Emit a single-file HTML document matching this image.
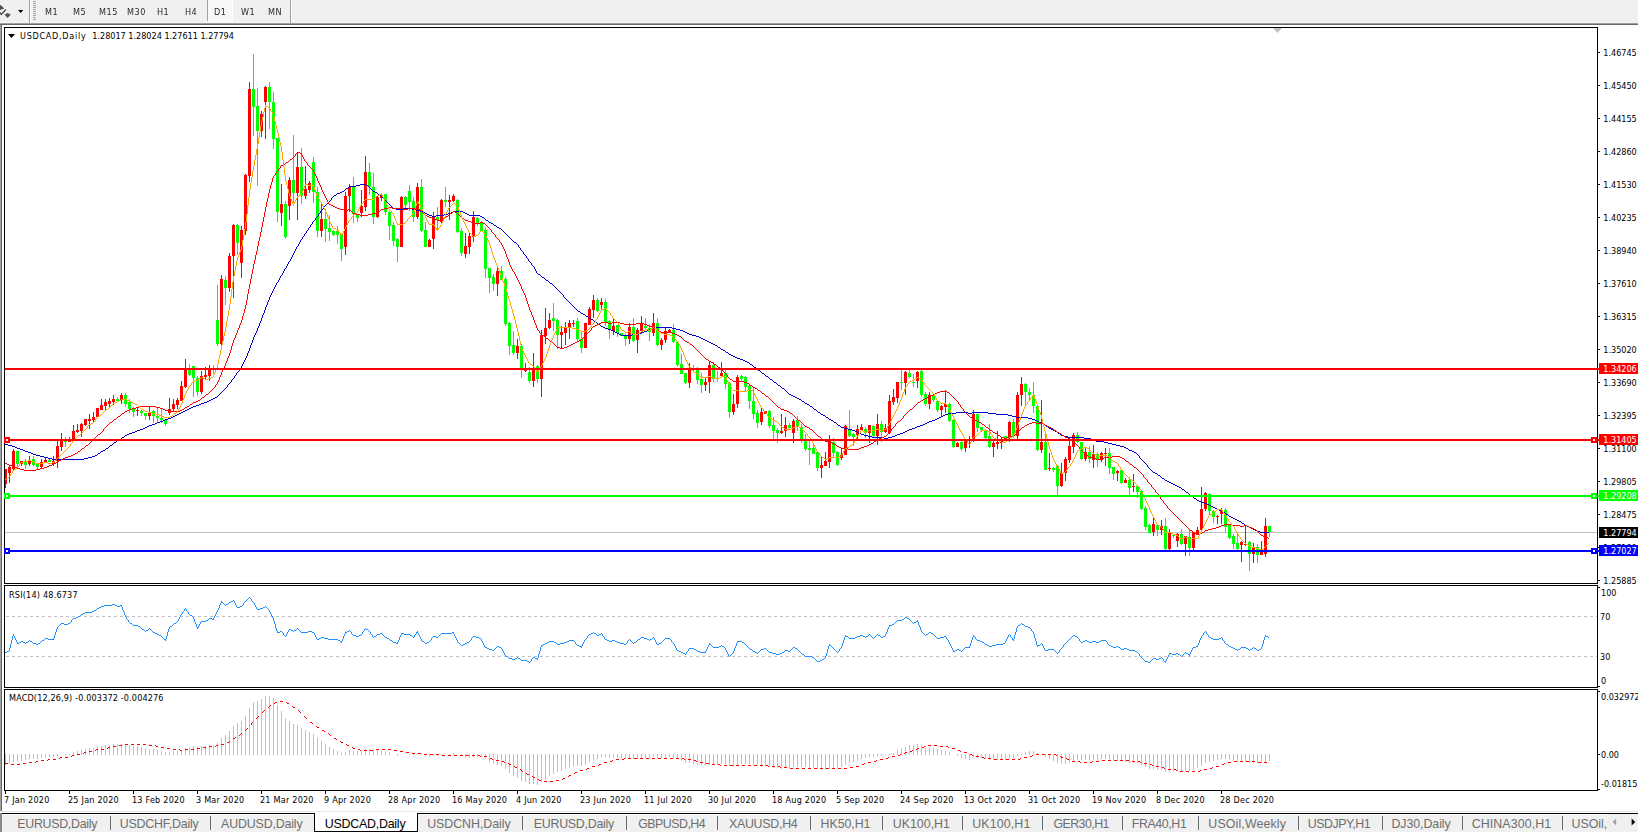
<!DOCTYPE html>
<html><head><meta charset="utf-8"><title>USDCAD,Daily</title>
<style>
html,body{margin:0;padding:0;background:#fff;}
body{width:1638px;height:832px;overflow:hidden;position:relative;font-family:"Liberation Sans",sans-serif;}
.t{position:absolute;white-space:pre;line-height:1;}
.s{font-family:"DejaVu Sans Condensed","Liberation Sans",sans-serif;font-size:9px;}
.tb{color:#2a2a2a;top:7.5px;letter-spacing:0.5px;will-change:transform;}
.ax{color:#000;}
.dt{color:#000;top:796px;letter-spacing:0.22px;}
.lab{color:#fff;}
.tab{font-size:12.4px;color:#6e6e6e;top:817.5px;}
svg{position:absolute;left:0;top:0;}
</style></head><body>
<svg width="1638" height="832" viewBox="0 0 1638 832" shape-rendering="crispEdges">
<rect x="0" y="0" width="1638" height="22" fill="#f0f0f0"/>
<rect x="0" y="22" width="1638" height="1" fill="#f3f3f3"/>
<rect x="0" y="23" width="1638" height="1" fill="#a0a0a0"/>
<rect x="0" y="24" width="1638" height="1" fill="#696969"/>
<rect x="29" y="0" width="1" height="23" fill="#a0a0a0"/>
<rect x="30" y="0" width="1" height="23" fill="#ffffff"/>
<rect x="33" y="1" width="3" height="1" fill="#a8a8a8"/>
<rect x="33" y="3" width="3" height="1" fill="#a8a8a8"/>
<rect x="33" y="5" width="3" height="1" fill="#a8a8a8"/>
<rect x="33" y="7" width="3" height="1" fill="#a8a8a8"/>
<rect x="33" y="9" width="3" height="1" fill="#a8a8a8"/>
<rect x="33" y="11" width="3" height="1" fill="#a8a8a8"/>
<rect x="33" y="13" width="3" height="1" fill="#a8a8a8"/>
<rect x="33" y="15" width="3" height="1" fill="#a8a8a8"/>
<rect x="33" y="17" width="3" height="1" fill="#a8a8a8"/>
<rect x="33" y="19" width="3" height="1" fill="#a8a8a8"/>
<rect x="207" y="0" width="1" height="21" fill="#a0a0a0"/>
<defs><pattern id="dz" width="2" height="2" patternUnits="userSpaceOnUse"><rect width="2" height="2" fill="#f0f0f0"/><rect width="1" height="1" fill="#fff"/><rect x="1" y="1" width="1" height="1" fill="#fff"/></pattern></defs><rect x="208" y="0" width="24" height="21" fill="url(#dz)"/>
<rect x="232" y="0" width="1" height="22" fill="#ffffff"/>
<rect x="207" y="21" width="26" height="1" fill="#ffffff"/>
<rect x="290" y="0" width="1" height="23" fill="#a0a0a0"/>
<rect x="291" y="0" width="1" height="23" fill="#fafafa"/>
<path d="M0 5.2 L1 5.2 L4.2 8.4 L0 10 Z" fill="#505050" shape-rendering="auto"/>
<path d="M-0.5 12.3 L1.3 14.4 L5.9 9.5" stroke="#505050" stroke-width="1.5" fill="none" shape-rendering="auto"/>
<path d="M4.2 14.2 L6 14.2 L6.5 13.2 L8.6 13.2 L9.1 14.2 L11 14.2 L7.6 18 Z" fill="#505050" shape-rendering="auto"/>
<path d="M18 10 L23.3 10 L20.65 13.1 Z" fill="#000" shape-rendering="auto"/>
<rect x="0" y="25" width="1" height="786" fill="#a0a0a0"/>
<rect x="1" y="25" width="1" height="786" fill="#696969"/>
<path d="M1273 28 L1282 28 L1277.5 33 Z" fill="#c0c0c0" shape-rendering="auto"/>
<rect x="1598" y="52" width="2" height="1" fill="#000"/>
<rect x="1598" y="85" width="2" height="1" fill="#000"/>
<rect x="1598" y="118" width="2" height="1" fill="#000"/>
<rect x="1598" y="151" width="2" height="1" fill="#000"/>
<rect x="1598" y="184" width="2" height="1" fill="#000"/>
<rect x="1598" y="217" width="2" height="1" fill="#000"/>
<rect x="1598" y="250" width="2" height="1" fill="#000"/>
<rect x="1598" y="283" width="2" height="1" fill="#000"/>
<rect x="1598" y="316" width="2" height="1" fill="#000"/>
<rect x="1598" y="349" width="2" height="1" fill="#000"/>
<rect x="1598" y="382" width="2" height="1" fill="#000"/>
<rect x="1598" y="415" width="2" height="1" fill="#000"/>
<rect x="1598" y="448" width="2" height="1" fill="#000"/>
<rect x="1598" y="481" width="2" height="1" fill="#000"/>
<rect x="1598" y="514" width="2" height="1" fill="#000"/>
<rect x="1598" y="547" width="2" height="1" fill="#000"/>
<rect x="1598" y="580" width="2" height="1" fill="#000"/>
<rect x="1598" y="587" width="2" height="1" fill="#000"/>
<rect x="1598" y="686" width="2" height="1" fill="#000"/>
<rect x="1598" y="691" width="2" height="1" fill="#000"/>
<rect x="1598" y="754" width="2" height="1" fill="#000"/>
<rect x="1598" y="789" width="2" height="1" fill="#000"/>
<path d="M6 616.5H1597M6 656.5H1597" stroke="#c0c0c0" stroke-width="1" stroke-dasharray="3 3" fill="none"/>
<path d="M8 34 L15 34 L11.5 38 Z" fill="#000" shape-rendering="auto"/>
<rect x="5" y="791" width="1" height="3" fill="#000"/>
<rect x="69" y="791" width="1" height="3" fill="#000"/>
<rect x="133" y="791" width="1" height="3" fill="#000"/>
<rect x="197" y="791" width="1" height="3" fill="#000"/>
<rect x="261" y="791" width="1" height="3" fill="#000"/>
<rect x="325" y="791" width="1" height="3" fill="#000"/>
<rect x="389" y="791" width="1" height="3" fill="#000"/>
<rect x="453" y="791" width="1" height="3" fill="#000"/>
<rect x="517" y="791" width="1" height="3" fill="#000"/>
<rect x="581" y="791" width="1" height="3" fill="#000"/>
<rect x="645" y="791" width="1" height="3" fill="#000"/>
<rect x="709" y="791" width="1" height="3" fill="#000"/>
<rect x="773" y="791" width="1" height="3" fill="#000"/>
<rect x="837" y="791" width="1" height="3" fill="#000"/>
<rect x="901" y="791" width="1" height="3" fill="#000"/>
<rect x="965" y="791" width="1" height="3" fill="#000"/>
<rect x="1029" y="791" width="1" height="3" fill="#000"/>
<rect x="1093" y="791" width="1" height="3" fill="#000"/>
<rect x="1157" y="791" width="1" height="3" fill="#000"/>
<rect x="1221" y="791" width="1" height="3" fill="#000"/>
<rect x="0" y="811" width="1638" height="1" fill="#e6e6e6"/>
<rect x="0" y="813" width="1638" height="1" fill="#000"/>
<rect x="0" y="815" width="1638" height="17" fill="#f0f0f0"/>
<rect x="0" y="813" width="2" height="19" fill="#8a8a8a"/>
<rect x="315" y="813" width="102" height="18" fill="#fff"/>
<rect x="314" y="813" width="1" height="19" fill="#000"/>
<rect x="417" y="813" width="1" height="19" fill="#000"/>
<rect x="314" y="831" width="104" height="1" fill="#000"/>
<rect x="110" y="816" width="1" height="14" fill="#6a6a6a"/>
<rect x="210" y="816" width="1" height="14" fill="#6a6a6a"/>
<rect x="522" y="816" width="1" height="14" fill="#6a6a6a"/>
<rect x="626" y="816" width="1" height="14" fill="#6a6a6a"/>
<rect x="717" y="816" width="1" height="14" fill="#6a6a6a"/>
<rect x="810" y="816" width="1" height="14" fill="#6a6a6a"/>
<rect x="882" y="816" width="1" height="14" fill="#6a6a6a"/>
<rect x="962" y="816" width="1" height="14" fill="#6a6a6a"/>
<rect x="1042" y="816" width="1" height="14" fill="#6a6a6a"/>
<rect x="1122" y="816" width="1" height="14" fill="#6a6a6a"/>
<rect x="1198" y="816" width="1" height="14" fill="#6a6a6a"/>
<rect x="1298" y="816" width="1" height="14" fill="#6a6a6a"/>
<rect x="1382" y="816" width="1" height="14" fill="#6a6a6a"/>
<rect x="1462" y="816" width="1" height="14" fill="#6a6a6a"/>
<rect x="1562" y="816" width="1" height="14" fill="#6a6a6a"/>
<rect x="1606" y="814" width="32" height="18" fill="#f0f0f0"/>
<path d="M1616.2 818.5 L1616.2 825.5 L1612.6 822 Z" fill="#a0a0a0" shape-rendering="auto"/>
<path d="M1631.6 818.5 L1631.6 825.5 L1635.3 822 Z" fill="#000" shape-rendering="auto"/>
<rect x="5" y="532" width="1592" height="1" fill="#c0c0c0"/>
<path d="M5 469h1v19h-1zM9 466h1v17h-1zM13 449h1v22h-1zM21 461h1v5h-1zM29 456h1v10h-1zM41 459h1v10h-1zM45 457h1v6h-1zM53 456h1v10h-1zM57 440h1v28h-1zM61 433h1v18h-1zM69 437h1v5h-1zM73 425h1v15h-1zM77 424h1v9h-1zM81 423h1v14h-1zM85 419h1v7h-1zM89 414h1v15h-1zM93 412h1v11h-1zM97 408h1v10h-1zM101 399h1v11h-1zM105 399h1v11h-1zM109 398h1v9h-1zM113 395h1v10h-1zM121 393h1v11h-1zM137 407h1v9h-1zM149 406h1v14h-1zM169 398h1v17h-1zM173 399h1v12h-1zM177 398h1v11h-1zM181 381h1v20h-1zM185 359h1v29h-1zM201 371h1v23h-1zM205 367h1v12h-1zM209 365h1v16h-1zM221 275h1v70h-1zM229 253h1v39h-1zM233 224h1v74h-1zM241 226h1v52h-1zM245 174h1v61h-1zM249 82h1v100h-1zM261 111h1v26h-1zM265 86h1v53h-1zM281 184h1v42h-1zM289 177h1v43h-1zM297 152h1v68h-1zM305 166h1v33h-1zM309 181h1v12h-1zM321 204h1v33h-1zM345 192h1v63h-1zM349 184h1v28h-1zM361 190h1v27h-1zM365 156h1v55h-1zM377 195h1v23h-1zM381 193h1v8h-1zM401 196h1v51h-1zM417 183h1v36h-1zM429 239h1v8h-1zM433 212h1v37h-1zM441 199h1v24h-1zM449 195h1v25h-1zM453 194h1v8h-1zM465 233h1v25h-1zM469 232h1v22h-1zM473 211h1v31h-1zM497 268h1v28h-1zM517 339h1v20h-1zM525 363h1v9h-1zM533 353h1v34h-1zM541 330h1v67h-1zM545 308h1v36h-1zM549 313h1v16h-1zM561 326h1v23h-1zM565 322h1v23h-1zM569 320h1v19h-1zM573 320h1v7h-1zM585 323h1v25h-1zM589 307h1v18h-1zM593 295h1v23h-1zM601 298h1v11h-1zM613 319h1v16h-1zM629 323h1v21h-1zM637 328h1v25h-1zM641 316h1v18h-1zM653 313h1v23h-1zM661 338h1v12h-1zM665 328h1v15h-1zM669 329h1v4h-1zM689 363h1v25h-1zM705 378h1v13h-1zM709 361h1v32h-1zM721 362h1v15h-1zM733 394h1v21h-1zM737 375h1v33h-1zM761 408h1v17h-1zM765 411h1v3h-1zM781 414h1v20h-1zM785 417h1v20h-1zM793 419h1v24h-1zM821 457h1v21h-1zM825 452h1v14h-1zM829 435h1v33h-1zM841 448h1v12h-1zM845 425h1v30h-1zM857 425h1v14h-1zM861 424h1v6h-1zM869 425h1v18h-1zM877 414h1v31h-1zM885 424h1v9h-1zM889 395h1v39h-1zM893 389h1v16h-1zM897 382h1v21h-1zM905 371h1v24h-1zM917 371h1v17h-1zM929 392h1v17h-1zM941 405h1v11h-1zM945 390h1v23h-1zM957 442h1v5h-1zM965 440h1v12h-1zM969 436h1v12h-1zM973 410h1v32h-1zM993 441h1v16h-1zM997 431h1v18h-1zM1001 437h1v12h-1zM1009 421h1v21h-1zM1017 392h1v47h-1zM1021 377h1v29h-1zM1041 400h1v53h-1zM1049 453h1v18h-1zM1061 463h1v24h-1zM1065 457h1v24h-1zM1069 437h1v26h-1zM1073 433h1v20h-1zM1085 448h1v13h-1zM1093 445h1v23h-1zM1101 452h1v10h-1zM1105 448h1v18h-1zM1117 470h1v11h-1zM1125 478h1v5h-1zM1133 474h1v18h-1zM1153 517h1v19h-1zM1161 520h1v15h-1zM1169 529h1v21h-1zM1177 533h1v14h-1zM1185 536h1v20h-1zM1193 532h1v18h-1zM1197 527h1v8h-1zM1201 487h1v44h-1zM1205 492h1v19h-1zM1217 515h1v9h-1zM1221 508h1v16h-1zM1241 541h1v21h-1zM1245 526h1v20h-1zM1253 543h1v20h-1zM1261 541h1v14h-1zM1265 518h1v39h-1zM4 469h3v15h-3zM8 467h3v6h-3zM12 451h3v18h-3zM20 461h3v3h-3zM28 460h3v4h-3zM40 462h3v5h-3zM44 460h3v2h-3zM52 461h3v3h-3zM56 446h3v15h-3zM60 440h3v7h-3zM68 440h3v2h-3zM72 431h3v9h-3zM76 430h3v2h-3zM80 424h3v7h-3zM84 419h3v6h-3zM88 419h3v2h-3zM92 417h3v3h-3zM96 408h3v9h-3zM100 405h3v5h-3zM104 402h3v4h-3zM108 401h3v3h-3zM112 399h3v3h-3zM120 395h3v5h-3zM136 410h3v1h-3zM148 412h3v4h-3zM168 409h3v4h-3zM172 404h3v5h-3zM176 400h3v5h-3zM180 386h3v15h-3zM184 368h3v19h-3zM200 376h3v16h-3zM204 375h3v2h-3zM208 369h3v7h-3zM220 279h3v65h-3zM228 256h3v32h-3zM232 225h3v31h-3zM240 230h3v33h-3zM244 175h3v56h-3zM248 89h3v87h-3zM260 114h3v17h-3zM264 87h3v15h-3zM280 204h3v9h-3zM288 180h3v26h-3zM296 167h3v26h-3zM304 189h3v7h-3zM308 183h3v7h-3zM320 219h3v12h-3zM344 196h3v51h-3zM348 187h3v9h-3zM360 206h3v7h-3zM364 172h3v35h-3zM376 197h3v20h-3zM380 196h3v2h-3zM400 197h3v50h-3zM416 187h3v30h-3zM428 240h3v7h-3zM432 216h3v23h-3zM440 200h3v22h-3zM448 200h3v2h-3zM452 196h3v5h-3zM464 246h3v8h-3zM468 236h3v11h-3zM472 217h3v20h-3zM496 271h3v13h-3zM516 346h3v7h-3zM524 368h3v3h-3zM532 368h3v13h-3zM540 335h3v44h-3zM544 328h3v8h-3zM548 320h3v8h-3zM560 332h3v3h-3zM564 327h3v6h-3zM568 323h3v4h-3zM572 323h3v1h-3zM584 323h3v25h-3zM588 309h3v16h-3zM592 300h3v10h-3zM600 302h3v3h-3zM612 326h3v5h-3zM628 327h3v12h-3zM636 330h3v10h-3zM640 323h3v8h-3zM652 323h3v10h-3zM660 340h3v5h-3zM664 331h3v9h-3zM668 330h3v3h-3zM688 369h3v14h-3zM704 382h3v3h-3zM708 365h3v17h-3zM720 373h3v3h-3zM732 404h3v8h-3zM736 377h3v27h-3zM760 412h3v10h-3zM764 411h3v3h-3zM780 431h3v2h-3zM784 425h3v6h-3zM792 421h3v12h-3zM820 465h3v3h-3zM824 461h3v5h-3zM828 441h3v21h-3zM840 455h3v3h-3zM844 426h3v29h-3zM856 429h3v6h-3zM860 427h3v3h-3zM868 425h3v8h-3zM876 424h3v12h-3zM884 428h3v4h-3zM888 401h3v32h-3zM892 397h3v5h-3zM896 382h3v16h-3zM904 372h3v11h-3zM916 372h3v9h-3zM928 395h3v9h-3zM940 406h3v4h-3zM944 404h3v3h-3zM956 443h3v4h-3zM964 441h3v7h-3zM968 440h3v1h-3zM972 414h3v27h-3zM992 443h3v4h-3zM996 442h3v2h-3zM1000 441h3v2h-3zM1008 422h3v15h-3zM1016 395h3v41h-3zM1020 384h3v11h-3zM1040 442h3v8h-3zM1048 468h3v1h-3zM1060 473h3v13h-3zM1064 459h3v14h-3zM1068 446h3v14h-3zM1072 435h3v12h-3zM1084 452h3v7h-3zM1092 454h3v6h-3zM1100 453h3v7h-3zM1104 453h3v1h-3zM1116 471h3v2h-3zM1124 480h3v3h-3zM1132 486h3v1h-3zM1152 524h3v8h-3zM1160 526h3v4h-3zM1168 533h3v16h-3zM1176 534h3v7h-3zM1184 536h3v8h-3zM1192 532h3v16h-3zM1196 530h3v5h-3zM1200 509h3v21h-3zM1204 493h3v16h-3zM1216 516h3v1h-3zM1220 510h3v4h-3zM1240 542h3v3h-3zM1244 544h3v1h-3zM1252 547h3v7h-3zM1260 552h3v3h-3zM1264 526h3v28h-3z" fill="#ff0000"/>
<path d="M17 451h1v16h-1zM25 459h1v10h-1zM33 456h1v10h-1zM37 463h1v6h-1zM49 459h1v3h-1zM65 437h1v10h-1zM117 397h1v5h-1zM125 393h1v14h-1zM129 399h1v14h-1zM133 407h1v10h-1zM141 410h1v6h-1zM145 413h1v7h-1zM153 410h1v13h-1zM157 408h1v14h-1zM161 408h1v15h-1zM165 419h1v7h-1zM189 364h1v12h-1zM193 366h1v31h-1zM197 376h1v20h-1zM213 365h1v9h-1zM217 285h1v61h-1zM225 276h1v29h-1zM237 224h1v31h-1zM253 54h1v82h-1zM257 88h1v98h-1zM269 82h1v47h-1zM273 92h1v57h-1zM277 138h1v84h-1zM285 201h1v38h-1zM293 135h1v68h-1zM301 148h1v56h-1zM313 157h1v46h-1zM317 187h1v50h-1zM325 209h1v33h-1zM329 215h1v26h-1zM333 230h1v6h-1zM337 226h1v18h-1zM341 234h1v27h-1zM353 177h1v46h-1zM357 214h1v8h-1zM369 163h1v32h-1zM373 173h1v51h-1zM385 194h1v21h-1zM389 211h1v29h-1zM393 222h1v24h-1zM397 238h1v24h-1zM405 196h1v12h-1zM409 185h1v26h-1zM413 197h1v25h-1zM421 179h1v53h-1zM425 222h1v25h-1zM437 207h1v24h-1zM445 187h1v20h-1zM457 199h1v34h-1zM461 228h1v28h-1zM477 217h1v9h-1zM481 221h1v10h-1zM485 227h1v51h-1zM489 268h1v25h-1zM493 274h1v17h-1zM501 266h1v14h-1zM505 277h1v49h-1zM509 322h1v33h-1zM513 331h1v24h-1zM521 344h1v34h-1zM529 367h1v16h-1zM537 365h1v18h-1zM553 303h1v28h-1zM557 319h1v30h-1zM577 318h1v24h-1zM581 332h1v21h-1zM597 298h1v14h-1zM605 299h1v27h-1zM609 320h1v19h-1zM617 325h1v12h-1zM621 333h1v3h-1zM625 334h1v12h-1zM633 318h1v24h-1zM645 318h1v11h-1zM649 324h1v17h-1zM657 318h1v28h-1zM673 324h1v19h-1zM677 341h1v26h-1zM681 354h1v20h-1zM685 373h1v11h-1zM693 365h1v6h-1zM697 367h1v17h-1zM701 373h1v20h-1zM713 362h1v20h-1zM717 371h1v11h-1zM725 370h1v19h-1zM729 382h1v36h-1zM741 375h1v6h-1zM745 376h1v16h-1zM749 385h1v24h-1zM753 388h1v31h-1zM757 410h1v18h-1zM769 410h1v18h-1zM773 417h1v23h-1zM777 428h1v15h-1zM789 423h1v6h-1zM797 416h1v15h-1zM801 424h1v19h-1zM805 434h1v17h-1zM809 441h1v24h-1zM813 444h1v10h-1zM817 452h1v19h-1zM833 438h1v19h-1zM837 451h1v15h-1zM849 410h1v27h-1zM853 433h1v13h-1zM865 427h1v11h-1zM873 425h1v12h-1zM881 421h1v21h-1zM901 370h1v20h-1zM909 370h1v8h-1zM913 374h1v13h-1zM921 370h1v27h-1zM925 392h1v14h-1zM933 394h1v8h-1zM937 400h1v12h-1zM949 403h1v19h-1zM953 419h1v29h-1zM961 441h1v10h-1zM977 414h1v18h-1zM981 427h1v5h-1zM985 429h1v10h-1zM989 424h1v24h-1zM1005 436h1v3h-1zM1013 419h1v19h-1zM1025 383h1v23h-1zM1029 388h1v12h-1zM1033 382h1v31h-1zM1037 406h1v45h-1zM1045 434h1v36h-1zM1053 467h1v5h-1zM1057 465h1v31h-1zM1077 432h1v11h-1zM1081 442h1v18h-1zM1089 446h1v17h-1zM1097 452h1v15h-1zM1109 448h1v26h-1zM1113 467h1v13h-1zM1121 470h1v14h-1zM1129 477h1v18h-1zM1137 485h1v13h-1zM1141 491h1v19h-1zM1145 506h1v24h-1zM1149 524h1v9h-1zM1157 524h1v12h-1zM1165 518h1v32h-1zM1173 534h1v4h-1zM1181 529h1v16h-1zM1189 530h1v26h-1zM1209 493h1v22h-1zM1213 510h1v13h-1zM1225 508h1v25h-1zM1229 525h1v14h-1zM1233 534h1v15h-1zM1237 533h1v17h-1zM1249 541h1v30h-1zM1257 544h1v19h-1zM1269 526h1v11h-1zM16 451h3v13h-3zM24 462h3v3h-3zM32 459h3v6h-3zM36 464h3v3h-3zM48 460h3v2h-3zM64 440h3v2h-3zM116 399h3v2h-3zM124 395h3v9h-3zM128 402h3v7h-3zM132 409h3v3h-3zM140 411h3v2h-3zM144 413h3v3h-3zM152 411h3v5h-3zM156 416h3v2h-3zM160 418h3v2h-3zM164 420h3v4h-3zM188 369h3v6h-3zM192 366h3v12h-3zM196 378h3v14h-3zM212 369h3v1h-3zM216 320h3v24h-3zM224 280h3v8h-3zM236 225h3v18h-3zM252 89h3v18h-3zM256 106h3v25h-3zM268 87h3v15h-3zM272 102h3v37h-3zM276 138h3v74h-3zM284 204h3v33h-3zM292 180h3v13h-3zM300 167h3v29h-3zM312 162h3v30h-3zM316 192h3v39h-3zM324 219h3v10h-3zM328 228h3v4h-3zM332 231h3v4h-3zM336 231h3v4h-3zM340 234h3v15h-3zM352 187h3v27h-3zM356 215h3v3h-3zM368 172h3v15h-3zM372 187h3v30h-3zM384 194h3v18h-3zM388 212h3v14h-3zM392 225h3v16h-3zM396 239h3v8h-3zM404 197h3v8h-3zM408 191h3v11h-3zM412 201h3v16h-3zM420 187h3v44h-3zM424 230h3v17h-3zM436 217h3v3h-3zM444 200h3v2h-3zM456 200h3v32h-3zM460 231h3v22h-3zM476 218h3v5h-3zM480 223h3v8h-3zM484 230h3v39h-3zM488 268h3v10h-3zM492 277h3v7h-3zM500 271h3v9h-3zM504 279h3v45h-3zM508 323h3v23h-3zM512 345h3v8h-3zM520 346h3v22h-3zM528 372h3v9h-3zM536 366h3v13h-3zM552 318h3v3h-3zM556 320h3v15h-3zM576 321h3v18h-3zM580 339h3v9h-3zM596 300h3v11h-3zM604 302h3v20h-3zM608 321h3v9h-3zM616 325h3v8h-3zM620 333h3v3h-3zM624 336h3v3h-3zM632 327h3v14h-3zM644 326h3v2h-3zM648 328h3v4h-3zM656 323h3v22h-3zM672 330h3v12h-3zM676 342h3v23h-3zM680 364h3v10h-3zM684 373h3v10h-3zM692 369h3v1h-3zM696 370h3v10h-3zM700 379h3v6h-3zM712 365h3v14h-3zM716 378h3v1h-3zM724 373h3v11h-3zM728 383h3v29h-3zM740 376h3v3h-3zM744 377h3v10h-3zM748 386h3v15h-3zM752 401h3v13h-3zM756 413h3v10h-3zM768 411h3v15h-3zM772 425h3v6h-3zM776 430h3v3h-3zM788 425h3v3h-3zM796 420h3v7h-3zM800 427h3v13h-3zM804 441h3v8h-3zM808 448h3v2h-3zM812 448h3v6h-3zM816 452h3v16h-3zM832 442h3v11h-3zM836 452h3v13h-3zM848 429h3v7h-3zM852 434h3v3h-3zM864 429h3v4h-3zM872 426h3v10h-3zM880 424h3v8h-3zM900 382h3v1h-3zM908 373h3v4h-3zM912 382h3v1h-3zM920 371h3v24h-3zM924 394h3v10h-3zM932 395h3v5h-3zM936 401h3v9h-3zM948 404h3v17h-3zM952 420h3v27h-3zM960 442h3v7h-3zM976 414h3v14h-3zM980 427h3v3h-3zM984 430h3v8h-3zM988 436h3v11h-3zM1004 436h3v2h-3zM1012 422h3v14h-3zM1024 384h3v8h-3zM1028 392h3v3h-3zM1032 395h3v11h-3zM1036 406h3v44h-3zM1044 442h3v28h-3zM1052 468h3v2h-3zM1056 466h3v20h-3zM1076 435h3v7h-3zM1080 442h3v17h-3zM1088 452h3v7h-3zM1096 454h3v5h-3zM1108 453h3v15h-3zM1112 467h3v7h-3zM1120 470h3v13h-3zM1128 480h3v8h-3zM1136 486h3v6h-3zM1140 491h3v18h-3zM1144 508h3v19h-3zM1148 525h3v8h-3zM1156 525h3v5h-3zM1164 526h3v23h-3zM1172 535h3v1h-3zM1180 534h3v10h-3zM1188 537h3v11h-3zM1208 494h3v17h-3zM1212 511h3v6h-3zM1224 510h3v17h-3zM1228 525h3v13h-3zM1232 536h3v8h-3zM1236 543h3v6h-3zM1248 542h3v12h-3zM1256 547h3v8h-3zM1268 526h3v6h-3z" fill="#00ff00"/>
<path d="M360 184h6v1h-6zM356 185h4v1h-4zM366 185h2v1h-2zM349 186h7v1h-7zM368 186h1v1h-1zM348 187h1v1h-1zM369 187h1v1h-1zM346 188h2v1h-2zM370 188h1v1h-1zM345 189h1v1h-1zM371 189h1v1h-1zM344 190h1v1h-1zM372 190h1v1h-1zM342 191h2v1h-2zM373 191h2v1h-2zM340 192h2v1h-2zM375 192h2v1h-2zM337 193h3v1h-3zM377 193h1v1h-1zM336 194h1v1h-1zM378 194h2v1h-2zM334 195h2v1h-2zM380 195h1v1h-1zM333 196h1v1h-1zM381 196h1v1h-1zM332 197h1v1h-1zM382 197h1v1h-1zM383 198h1v1h-1zM384 199h1v1h-1zM330 200h1v1h-1zM385 200h1v1h-1zM329 201h1v1h-1zM386 201h1v1h-1zM328 202h1v1h-1zM387 202h1v1h-1zM327 203h1v1h-1zM388 203h1v1h-1zM326 204h1v1h-1zM389 204h1v1h-1zM325 205h1v1h-1zM390 205h1v1h-1zM324 206h1v1h-1zM391 206h1v1h-1zM392 207h1v1h-1zM393 208h3v1h-3zM404 208h8v1h-8zM322 209h1v1h-1zM396 209h8v1h-8zM412 209h4v1h-4zM321 210h1v1h-1zM416 210h4v1h-4zM420 211h3v1h-3zM453 211h10v1h-10zM423 212h2v1h-2zM451 212h2v1h-2zM463 212h2v1h-2zM319 213h1v1h-1zM425 213h2v1h-2zM448 213h3v1h-3zM465 213h2v1h-2zM427 214h2v1h-2zM444 214h4v1h-4zM467 214h2v1h-2zM429 215h3v1h-3zM436 215h8v1h-8zM469 215h11v1h-11zM317 216h1v1h-1zM432 216h4v1h-4zM480 216h2v1h-2zM316 217h1v1h-1zM482 217h2v1h-2zM484 218h1v1h-1zM485 219h1v1h-1zM314 220h1v1h-1zM486 220h2v1h-2zM313 221h1v1h-1zM488 221h1v1h-1zM489 222h2v1h-2zM491 223h2v1h-2zM311 224h1v1h-1zM493 224h1v1h-1zM494 225h2v1h-2zM496 226h1v1h-1zM309 227h1v1h-1zM497 227h2v1h-2zM499 228h2v1h-2zM501 229h1v1h-1zM307 230h1v1h-1zM502 230h1v1h-1zM503 231h1v1h-1zM504 232h1v1h-1zM305 233h1v1h-1zM505 233h1v1h-1zM506 234h1v1h-1zM507 235h1v1h-1zM303 236h1v1h-1zM508 236h1v1h-1zM509 237h1v1h-1zM510 238h1v1h-1zM301 239h1v1h-1zM511 239h1v1h-1zM512 240h1v1h-1zM513 241h1v1h-1zM514 242h2v1h-2zM516 243h1v1h-1zM517 244h1v1h-1zM297 246h1v1h-1zM519 247h1v1h-1zM521 250h1v1h-1zM522 251h1v1h-1zM524 254h1v1h-1zM525 255h1v1h-1zM527 258h1v1h-1zM289 261h1v1h-1zM529 261h1v1h-1zM530 262h1v1h-1zM532 265h1v1h-1zM533 266h1v1h-1zM285 268h1v1h-1zM537 273h1v1h-1zM538 274h2v1h-2zM281 275h1v1h-1zM540 275h1v1h-1zM541 276h1v1h-1zM542 277h2v1h-2zM544 278h1v1h-1zM545 279h1v1h-1zM546 280h2v1h-2zM548 281h1v1h-1zM277 282h1v1h-1zM549 282h1v1h-1zM550 283h2v1h-2zM552 284h1v1h-1zM553 285h1v1h-1zM554 286h1v1h-1zM555 287h1v1h-1zM556 288h1v1h-1zM557 289h1v1h-1zM558 290h1v1h-1zM559 291h1v1h-1zM560 292h1v1h-1zM561 293h1v1h-1zM562 294h1v1h-1zM564 297h1v1h-1zM565 298h1v1h-1zM566 299h1v1h-1zM567 300h1v1h-1zM568 301h1v1h-1zM569 302h1v1h-1zM570 303h1v1h-1zM571 304h1v1h-1zM572 305h1v1h-1zM573 306h1v1h-1zM574 307h1v1h-1zM575 308h1v1h-1zM576 309h1v1h-1zM577 310h1v1h-1zM578 311h2v1h-2zM580 312h1v1h-1zM581 313h2v1h-2zM583 314h2v1h-2zM585 315h1v1h-1zM586 316h2v1h-2zM588 317h1v1h-1zM589 318h2v1h-2zM591 319h2v1h-2zM593 320h1v1h-1zM594 321h2v1h-2zM596 322h1v1h-1zM597 323h1v1h-1zM598 324h2v1h-2zM600 325h1v1h-1zM601 326h2v1h-2zM603 327h2v1h-2zM656 327h16v1h-16zM605 328h3v1h-3zM652 328h4v1h-4zM672 328h4v1h-4zM608 329h3v1h-3zM649 329h3v1h-3zM676 329h4v1h-4zM611 330h2v1h-2zM647 330h2v1h-2zM680 330h3v1h-3zM613 331h2v1h-2zM644 331h3v1h-3zM683 331h2v1h-2zM615 332h2v1h-2zM641 332h3v1h-3zM685 332h2v1h-2zM617 333h2v1h-2zM639 333h2v1h-2zM687 333h2v1h-2zM619 334h2v1h-2zM632 334h7v1h-7zM689 334h3v1h-3zM621 335h11v1h-11zM692 335h4v1h-4zM696 336h3v1h-3zM699 337h2v1h-2zM701 338h2v1h-2zM703 339h2v1h-2zM705 340h2v1h-2zM707 341h2v1h-2zM709 342h2v1h-2zM711 343h2v1h-2zM713 344h2v1h-2zM715 345h2v1h-2zM717 346h1v1h-1zM718 347h2v1h-2zM720 348h1v1h-1zM721 349h2v1h-2zM723 350h2v1h-2zM725 351h1v1h-1zM726 352h2v1h-2zM728 353h1v1h-1zM729 354h2v1h-2zM731 355h2v1h-2zM733 356h2v1h-2zM735 357h2v1h-2zM737 358h3v1h-3zM740 359h3v1h-3zM743 360h2v1h-2zM745 361h2v1h-2zM747 362h2v1h-2zM749 363h1v1h-1zM750 364h2v1h-2zM752 365h1v1h-1zM753 366h1v1h-1zM754 367h2v1h-2zM240 368h1v1h-1zM756 368h1v1h-1zM757 369h1v1h-1zM758 370h2v1h-2zM238 371h1v1h-1zM760 371h1v1h-1zM237 372h1v1h-1zM761 372h1v1h-1zM762 373h2v1h-2zM764 374h1v1h-1zM235 375h1v1h-1zM765 375h1v1h-1zM766 376h2v1h-2zM768 377h1v1h-1zM233 378h1v1h-1zM769 378h1v1h-1zM232 379h1v1h-1zM770 379h2v1h-2zM772 380h1v1h-1zM773 381h1v1h-1zM230 382h1v1h-1zM774 382h2v1h-2zM229 383h1v1h-1zM776 383h1v1h-1zM228 384h1v1h-1zM777 384h1v1h-1zM778 385h2v1h-2zM780 386h1v1h-1zM226 387h1v1h-1zM781 387h1v1h-1zM225 388h1v1h-1zM782 388h2v1h-2zM224 389h1v1h-1zM784 389h1v1h-1zM223 390h1v1h-1zM785 390h1v1h-1zM222 391h1v1h-1zM786 391h1v1h-1zM221 392h1v1h-1zM787 392h1v1h-1zM220 393h1v1h-1zM788 393h1v1h-1zM219 394h1v1h-1zM789 394h2v1h-2zM218 395h1v1h-1zM791 395h2v1h-2zM217 396h1v1h-1zM793 396h2v1h-2zM215 397h2v1h-2zM795 397h2v1h-2zM213 398h2v1h-2zM797 398h2v1h-2zM211 399h2v1h-2zM799 399h2v1h-2zM209 400h2v1h-2zM801 400h1v1h-1zM207 401h2v1h-2zM802 401h2v1h-2zM204 402h3v1h-3zM804 402h1v1h-1zM201 403h3v1h-3zM805 403h2v1h-2zM199 404h2v1h-2zM807 404h2v1h-2zM196 405h3v1h-3zM809 405h1v1h-1zM193 406h3v1h-3zM810 406h2v1h-2zM191 407h2v1h-2zM812 407h1v1h-1zM189 408h2v1h-2zM813 408h1v1h-1zM187 409h2v1h-2zM814 409h2v1h-2zM185 410h2v1h-2zM816 410h1v1h-1zM183 411h2v1h-2zM817 411h1v1h-1zM181 412h2v1h-2zM818 412h2v1h-2zM956 412h12v1h-12zM972 412h16v1h-16zM179 413h2v1h-2zM820 413h1v1h-1zM948 413h8v1h-8zM968 413h4v1h-4zM988 413h8v1h-8zM177 414h2v1h-2zM821 414h2v1h-2zM945 414h3v1h-3zM996 414h12v1h-12zM175 415h2v1h-2zM823 415h2v1h-2zM943 415h2v1h-2zM1008 415h4v1h-4zM173 416h2v1h-2zM825 416h1v1h-1zM941 416h2v1h-2zM1012 416h4v1h-4zM171 417h2v1h-2zM826 417h2v1h-2zM939 417h2v1h-2zM1016 417h12v1h-12zM168 418h3v1h-3zM828 418h1v1h-1zM937 418h2v1h-2zM1028 418h4v1h-4zM165 419h3v1h-3zM829 419h2v1h-2zM935 419h2v1h-2zM1032 419h3v1h-3zM163 420h2v1h-2zM831 420h2v1h-2zM932 420h3v1h-3zM1035 420h2v1h-2zM160 421h3v1h-3zM833 421h1v1h-1zM929 421h3v1h-3zM1037 421h2v1h-2zM157 422h3v1h-3zM834 422h2v1h-2zM927 422h2v1h-2zM1039 422h2v1h-2zM155 423h2v1h-2zM836 423h1v1h-1zM925 423h2v1h-2zM1041 423h2v1h-2zM152 424h3v1h-3zM837 424h1v1h-1zM923 424h2v1h-2zM1043 424h2v1h-2zM149 425h3v1h-3zM838 425h2v1h-2zM920 425h3v1h-3zM1045 425h1v1h-1zM147 426h2v1h-2zM840 426h1v1h-1zM917 426h3v1h-3zM1046 426h2v1h-2zM145 427h2v1h-2zM841 427h3v1h-3zM915 427h2v1h-2zM1048 427h1v1h-1zM143 428h2v1h-2zM844 428h4v1h-4zM912 428h3v1h-3zM1049 428h2v1h-2zM140 429h3v1h-3zM848 429h4v1h-4zM909 429h3v1h-3zM1051 429h2v1h-2zM137 430h3v1h-3zM852 430h3v1h-3zM907 430h2v1h-2zM1053 430h2v1h-2zM135 431h2v1h-2zM855 431h2v1h-2zM905 431h2v1h-2zM1055 431h2v1h-2zM132 432h3v1h-3zM857 432h2v1h-2zM903 432h2v1h-2zM1057 432h1v1h-1zM129 433h3v1h-3zM859 433h2v1h-2zM900 433h3v1h-3zM1058 433h2v1h-2zM127 434h2v1h-2zM861 434h3v1h-3zM897 434h3v1h-3zM1060 434h1v1h-1zM125 435h2v1h-2zM864 435h4v1h-4zM895 435h2v1h-2zM1061 435h3v1h-3zM124 436h1v1h-1zM868 436h4v1h-4zM892 436h3v1h-3zM1064 436h4v1h-4zM122 437h2v1h-2zM872 437h12v1h-12zM888 437h4v1h-4zM1068 437h16v1h-16zM121 438h1v1h-1zM884 438h4v1h-4zM1084 438h7v1h-7zM119 439h2v1h-2zM1091 439h2v1h-2zM117 440h2v1h-2zM1093 440h3v1h-3zM116 441h1v1h-1zM1096 441h8v1h-8zM114 442h2v1h-2zM1104 442h4v1h-4zM113 443h1v1h-1zM1108 443h4v1h-4zM5 444h3v1h-3zM112 444h1v1h-1zM1112 444h4v1h-4zM8 445h4v1h-4zM110 445h2v1h-2zM1116 445h4v1h-4zM12 446h3v1h-3zM109 446h1v1h-1zM1120 446h4v1h-4zM15 447h2v1h-2zM108 447h1v1h-1zM1124 447h2v1h-2zM17 448h3v1h-3zM106 448h2v1h-2zM1126 448h2v1h-2zM20 449h3v1h-3zM105 449h1v1h-1zM1128 449h1v1h-1zM23 450h2v1h-2zM103 450h2v1h-2zM1129 450h3v1h-3zM25 451h3v1h-3zM101 451h2v1h-2zM1132 451h2v1h-2zM28 452h3v1h-3zM100 452h1v1h-1zM1134 452h2v1h-2zM31 453h2v1h-2zM98 453h2v1h-2zM1136 453h1v1h-1zM33 454h3v1h-3zM97 454h1v1h-1zM1137 454h1v1h-1zM36 455h4v1h-4zM95 455h2v1h-2zM1138 455h1v1h-1zM40 456h4v1h-4zM92 456h3v1h-3zM44 457h4v1h-4zM88 457h4v1h-4zM48 458h4v1h-4zM84 458h4v1h-4zM1140 458h1v1h-1zM52 459h32v1h-32zM1141 459h1v1h-1zM1142 460h1v1h-1zM1143 461h1v1h-1zM1144 462h1v1h-1zM1145 463h1v1h-1zM1146 464h1v1h-1zM1148 467h1v1h-1zM1149 468h1v1h-1zM1150 469h1v1h-1zM1151 470h1v1h-1zM1152 471h1v1h-1zM1153 472h2v1h-2zM1155 473h2v1h-2zM1157 474h1v1h-1zM1158 475h2v1h-2zM1160 476h1v1h-1zM1161 477h1v1h-1zM1162 478h2v1h-2zM1164 479h1v1h-1zM1165 480h2v1h-2zM1167 481h2v1h-2zM1169 482h2v1h-2zM1171 483h2v1h-2zM1173 484h2v1h-2zM1175 485h2v1h-2zM1177 486h2v1h-2zM1179 487h2v1h-2zM1181 488h1v1h-1zM1182 489h2v1h-2zM1184 490h1v1h-1zM1185 491h1v1h-1zM1186 492h2v1h-2zM1188 493h1v1h-1zM1189 494h1v1h-1zM1190 495h2v1h-2zM1192 496h1v1h-1zM1193 497h1v1h-1zM1194 498h2v1h-2zM1196 499h1v1h-1zM1197 500h2v1h-2zM1199 501h2v1h-2zM1201 502h3v1h-3zM1204 503h3v1h-3zM1207 504h2v1h-2zM1209 505h2v1h-2zM1211 506h2v1h-2zM1213 507h2v1h-2zM1215 508h2v1h-2zM1217 509h2v1h-2zM1219 510h2v1h-2zM1221 511h2v1h-2zM1223 512h2v1h-2zM1225 513h1v1h-1zM1226 514h2v1h-2zM1228 515h1v1h-1zM1229 516h2v1h-2zM1231 517h2v1h-2zM1233 518h2v1h-2zM1235 519h2v1h-2zM1237 520h2v1h-2zM1239 521h2v1h-2zM1241 522h1v1h-1zM1242 523h2v1h-2zM1244 524h1v1h-1zM1245 525h2v1h-2zM1247 526h2v1h-2zM1249 527h2v1h-2zM1251 528h2v1h-2zM1253 529h2v1h-2zM1255 530h2v1h-2zM1257 531h3v1h-3zM1260 532h9v1h-9zM331 198h1v2h-1zM323 207h1v2h-1zM320 211h1v2h-1zM318 214h1v2h-1zM315 218h1v2h-1zM312 222h1v2h-1zM310 225h1v2h-1zM308 228h1v2h-1zM306 231h1v2h-1zM304 234h1v2h-1zM302 237h1v2h-1zM300 240h1v2h-1zM299 242h1v2h-1zM298 244h1v2h-1zM518 245h1v2h-1zM296 247h1v2h-1zM520 248h1v2h-1zM295 249h1v2h-1zM294 251h1v2h-1zM523 252h1v2h-1zM293 253h1v2h-1zM292 255h1v2h-1zM526 256h1v2h-1zM291 257h1v2h-1zM290 259h1v2h-1zM528 259h1v2h-1zM288 262h1v2h-1zM531 263h1v2h-1zM287 264h1v2h-1zM286 266h1v2h-1zM534 267h1v2h-1zM284 269h1v2h-1zM535 269h1v2h-1zM283 271h1v2h-1zM536 271h1v2h-1zM282 273h1v2h-1zM280 276h1v2h-1zM279 278h1v2h-1zM278 280h1v2h-1zM276 283h1v2h-1zM275 285h1v2h-1zM274 287h1v2h-1zM273 289h1v2h-1zM272 291h1v2h-1zM271 293h1v2h-1zM270 295h1v2h-1zM563 295h1v2h-1zM269 297h1v3h-1zM268 300h1v2h-1zM267 302h1v3h-1zM266 305h1v2h-1zM265 307h1v3h-1zM264 310h1v3h-1zM263 313h1v2h-1zM262 315h1v3h-1zM261 318h1v3h-1zM260 321h1v2h-1zM259 323h1v3h-1zM258 326h1v2h-1zM257 328h1v3h-1zM256 331h1v2h-1zM255 333h1v2h-1zM254 335h1v2h-1zM253 337h1v3h-1zM252 340h1v3h-1zM251 343h1v2h-1zM250 345h1v3h-1zM249 348h1v3h-1zM248 351h1v2h-1zM247 353h1v3h-1zM246 356h1v2h-1zM245 358h1v2h-1zM244 360h1v2h-1zM243 362h1v2h-1zM242 364h1v2h-1zM241 366h1v2h-1zM239 369h1v2h-1zM236 373h1v2h-1zM234 376h1v2h-1zM231 380h1v2h-1zM227 385h1v2h-1zM1139 456h1v2h-1zM1147 465h1v2h-1z" fill="#0000cd"/>
<path d="M297 152h3v1h-3zM296 153h1v1h-1zM300 153h1v1h-1zM294 156h1v1h-1zM293 157h1v1h-1zM292 158h1v1h-1zM290 159h2v1h-2zM289 160h1v1h-1zM288 161h1v1h-1zM305 161h1v1h-1zM286 162h2v1h-2zM306 162h1v1h-1zM285 163h1v1h-1zM283 164h2v1h-2zM281 165h2v1h-2zM308 165h1v1h-1zM309 166h1v1h-1zM310 167h1v1h-1zM279 168h1v1h-1zM311 168h1v1h-1zM312 169h1v1h-1zM277 171h1v1h-1zM276 172h1v1h-1zM274 175h1v1h-1zM329 204h2v1h-2zM331 205h2v1h-2zM333 206h2v1h-2zM335 207h2v1h-2zM388 207h4v1h-4zM416 207h2v1h-2zM337 208h3v1h-3zM384 208h4v1h-4zM392 208h12v1h-12zM408 208h8v1h-8zM418 208h1v1h-1zM340 209h4v1h-4zM348 209h2v1h-2zM381 209h3v1h-3zM404 209h4v1h-4zM419 209h1v1h-1zM344 210h4v1h-4zM350 210h1v1h-1zM380 210h1v1h-1zM420 210h1v1h-1zM351 211h1v1h-1zM378 211h2v1h-2zM421 211h1v1h-1zM453 211h2v1h-2zM352 212h1v1h-1zM376 212h2v1h-2zM422 212h1v1h-1zM452 212h1v1h-1zM455 212h2v1h-2zM353 213h3v1h-3zM372 213h4v1h-4zM423 213h1v1h-1zM450 213h2v1h-2zM457 213h1v1h-1zM356 214h4v1h-4zM368 214h4v1h-4zM424 214h1v1h-1zM449 214h1v1h-1zM458 214h1v1h-1zM360 215h8v1h-8zM425 215h2v1h-2zM448 215h1v1h-1zM459 215h1v1h-1zM427 216h2v1h-2zM446 216h2v1h-2zM460 216h1v1h-1zM429 217h3v1h-3zM445 217h1v1h-1zM461 217h1v1h-1zM432 218h3v1h-3zM443 218h2v1h-2zM462 218h2v1h-2zM435 219h2v1h-2zM440 219h3v1h-3zM464 219h1v1h-1zM437 220h3v1h-3zM465 220h3v1h-3zM468 221h3v1h-3zM471 222h2v1h-2zM480 222h3v1h-3zM473 223h7v1h-7zM483 223h2v1h-2zM485 224h1v1h-1zM486 225h1v1h-1zM487 226h1v1h-1zM488 227h1v1h-1zM489 228h1v1h-1zM490 229h1v1h-1zM492 232h1v1h-1zM493 233h1v1h-1zM494 234h1v1h-1zM496 237h1v1h-1zM497 238h1v1h-1zM498 239h1v1h-1zM500 242h1v1h-1zM513 271h1v1h-1zM601 322h7v1h-7zM612 322h8v1h-8zM599 323h2v1h-2zM608 323h4v1h-4zM620 323h4v1h-4zM636 323h8v1h-8zM597 324h2v1h-2zM624 324h12v1h-12zM644 324h3v1h-3zM595 325h2v1h-2zM647 325h2v1h-2zM593 326h2v1h-2zM649 326h3v1h-3zM592 327h1v1h-1zM652 327h2v1h-2zM654 328h2v1h-2zM656 329h1v1h-1zM538 330h1v1h-1zM590 330h1v1h-1zM657 330h2v1h-2zM589 331h1v1h-1zM659 331h2v1h-2zM588 332h1v1h-1zM661 332h11v1h-11zM540 333h1v1h-1zM587 333h1v1h-1zM672 333h3v1h-3zM541 334h1v1h-1zM586 334h1v1h-1zM675 334h2v1h-2zM542 335h2v1h-2zM585 335h1v1h-1zM677 335h2v1h-2zM544 336h1v1h-1zM584 336h1v1h-1zM679 336h2v1h-2zM545 337h1v1h-1zM583 337h1v1h-1zM681 337h1v1h-1zM546 338h2v1h-2zM582 338h1v1h-1zM682 338h1v1h-1zM548 339h1v1h-1zM581 339h1v1h-1zM683 339h1v1h-1zM549 340h1v1h-1zM579 340h2v1h-2zM684 340h1v1h-1zM550 341h2v1h-2zM577 341h2v1h-2zM685 341h2v1h-2zM552 342h1v1h-1zM575 342h2v1h-2zM687 342h2v1h-2zM553 343h1v1h-1zM573 343h2v1h-2zM689 343h1v1h-1zM554 344h1v1h-1zM571 344h2v1h-2zM690 344h2v1h-2zM555 345h1v1h-1zM569 345h2v1h-2zM692 345h1v1h-1zM556 346h1v1h-1zM567 346h2v1h-2zM693 346h1v1h-1zM557 347h3v1h-3zM564 347h3v1h-3zM694 347h1v1h-1zM560 348h4v1h-4zM695 348h1v1h-1zM696 349h1v1h-1zM697 350h1v1h-1zM698 351h1v1h-1zM699 352h1v1h-1zM700 353h1v1h-1zM701 354h1v1h-1zM702 355h1v1h-1zM703 356h1v1h-1zM704 357h1v1h-1zM705 358h1v1h-1zM706 359h2v1h-2zM708 360h1v1h-1zM709 361h2v1h-2zM711 362h2v1h-2zM713 363h1v1h-1zM714 364h2v1h-2zM716 365h1v1h-1zM717 366h1v1h-1zM718 367h2v1h-2zM720 368h1v1h-1zM721 369h1v1h-1zM722 370h1v1h-1zM723 371h1v1h-1zM724 372h1v1h-1zM725 373h1v1h-1zM726 374h1v1h-1zM728 377h1v1h-1zM729 378h1v1h-1zM730 379h2v1h-2zM732 380h1v1h-1zM733 381h11v1h-11zM744 382h3v1h-3zM747 383h2v1h-2zM216 384h1v1h-1zM749 384h1v1h-1zM750 385h2v1h-2zM752 386h1v1h-1zM214 387h1v1h-1zM753 387h2v1h-2zM213 388h1v1h-1zM755 388h2v1h-2zM212 389h1v1h-1zM757 389h1v1h-1zM211 390h1v1h-1zM758 390h2v1h-2zM210 391h1v1h-1zM760 391h1v1h-1zM940 391h7v1h-7zM209 392h1v1h-1zM761 392h1v1h-1zM937 392h3v1h-3zM947 392h2v1h-2zM208 393h1v1h-1zM762 393h2v1h-2zM935 393h2v1h-2zM949 393h1v1h-1zM206 394h2v1h-2zM764 394h1v1h-1zM933 394h2v1h-2zM950 394h1v1h-1zM205 395h1v1h-1zM765 395h1v1h-1zM931 395h2v1h-2zM951 395h1v1h-1zM204 396h1v1h-1zM766 396h2v1h-2zM929 396h2v1h-2zM952 396h1v1h-1zM202 397h2v1h-2zM768 397h1v1h-1zM927 397h2v1h-2zM953 397h1v1h-1zM201 398h1v1h-1zM769 398h1v1h-1zM925 398h2v1h-2zM954 398h1v1h-1zM200 399h1v1h-1zM770 399h1v1h-1zM923 399h2v1h-2zM955 399h1v1h-1zM198 400h2v1h-2zM771 400h1v1h-1zM921 400h2v1h-2zM956 400h1v1h-1zM196 401h2v1h-2zM772 401h1v1h-1zM920 401h1v1h-1zM957 401h1v1h-1zM193 402h3v1h-3zM773 402h1v1h-1zM918 402h2v1h-2zM192 403h1v1h-1zM774 403h1v1h-1zM917 403h1v1h-1zM190 404h2v1h-2zM775 404h1v1h-1zM916 404h1v1h-1zM959 404h1v1h-1zM189 405h1v1h-1zM776 405h1v1h-1zM915 405h1v1h-1zM140 406h16v1h-16zM187 406h2v1h-2zM777 406h1v1h-1zM914 406h1v1h-1zM136 407h4v1h-4zM156 407h4v1h-4zM185 407h2v1h-2zM778 407h2v1h-2zM913 407h1v1h-1zM961 407h1v1h-1zM132 408h4v1h-4zM160 408h3v1h-3zM184 408h1v1h-1zM780 408h1v1h-1zM912 408h1v1h-1zM962 408h1v1h-1zM129 409h3v1h-3zM163 409h2v1h-2zM182 409h2v1h-2zM781 409h3v1h-3zM910 409h2v1h-2zM127 410h2v1h-2zM165 410h3v1h-3zM180 410h2v1h-2zM784 410h3v1h-3zM909 410h1v1h-1zM125 411h2v1h-2zM168 411h12v1h-12zM787 411h2v1h-2zM908 411h1v1h-1zM964 411h1v1h-1zM124 412h1v1h-1zM789 412h1v1h-1zM907 412h1v1h-1zM965 412h1v1h-1zM122 413h2v1h-2zM790 413h2v1h-2zM906 413h1v1h-1zM966 413h1v1h-1zM121 414h1v1h-1zM792 414h1v1h-1zM905 414h1v1h-1zM967 414h1v1h-1zM120 415h1v1h-1zM793 415h1v1h-1zM904 415h1v1h-1zM968 415h1v1h-1zM118 416h2v1h-2zM794 416h1v1h-1zM969 416h1v1h-1zM117 417h1v1h-1zM795 417h1v1h-1zM970 417h2v1h-2zM116 418h1v1h-1zM796 418h1v1h-1zM902 418h1v1h-1zM972 418h1v1h-1zM114 419h2v1h-2zM797 419h1v1h-1zM901 419h1v1h-1zM973 419h2v1h-2zM113 420h1v1h-1zM798 420h2v1h-2zM900 420h1v1h-1zM975 420h2v1h-2zM112 421h1v1h-1zM800 421h1v1h-1zM898 421h2v1h-2zM977 421h2v1h-2zM110 422h2v1h-2zM801 422h1v1h-1zM897 422h1v1h-1zM979 422h2v1h-2zM1032 422h4v1h-4zM109 423h1v1h-1zM802 423h1v1h-1zM896 423h1v1h-1zM981 423h1v1h-1zM1029 423h3v1h-3zM1036 423h7v1h-7zM108 424h1v1h-1zM803 424h1v1h-1zM982 424h2v1h-2zM1027 424h2v1h-2zM1043 424h2v1h-2zM107 425h1v1h-1zM804 425h1v1h-1zM984 425h1v1h-1zM1025 425h2v1h-2zM1045 425h2v1h-2zM106 426h1v1h-1zM805 426h2v1h-2zM894 426h1v1h-1zM985 426h1v1h-1zM1024 426h1v1h-1zM1047 426h2v1h-2zM105 427h1v1h-1zM807 427h2v1h-2zM893 427h1v1h-1zM986 427h2v1h-2zM1022 427h2v1h-2zM1049 427h2v1h-2zM104 428h1v1h-1zM809 428h1v1h-1zM892 428h1v1h-1zM988 428h1v1h-1zM1021 428h1v1h-1zM1051 428h2v1h-2zM810 429h2v1h-2zM989 429h1v1h-1zM1020 429h1v1h-1zM1053 429h1v1h-1zM812 430h1v1h-1zM990 430h2v1h-2zM1019 430h1v1h-1zM1054 430h2v1h-2zM102 431h1v1h-1zM813 431h1v1h-1zM890 431h1v1h-1zM992 431h1v1h-1zM1018 431h1v1h-1zM1056 431h1v1h-1zM101 432h1v1h-1zM814 432h1v1h-1zM889 432h1v1h-1zM993 432h2v1h-2zM1017 432h1v1h-1zM1057 432h2v1h-2zM100 433h1v1h-1zM815 433h1v1h-1zM888 433h1v1h-1zM995 433h2v1h-2zM1016 433h1v1h-1zM1059 433h2v1h-2zM98 434h2v1h-2zM816 434h1v1h-1zM887 434h1v1h-1zM997 434h1v1h-1zM1015 434h1v1h-1zM1061 434h1v1h-1zM97 435h1v1h-1zM817 435h1v1h-1zM886 435h1v1h-1zM998 435h2v1h-2zM1014 435h1v1h-1zM1062 435h2v1h-2zM96 436h1v1h-1zM818 436h2v1h-2zM884 436h2v1h-2zM1000 436h1v1h-1zM1009 436h5v1h-5zM1064 436h1v1h-1zM95 437h1v1h-1zM820 437h1v1h-1zM881 437h3v1h-3zM1001 437h3v1h-3zM1007 437h2v1h-2zM1065 437h3v1h-3zM94 438h1v1h-1zM821 438h1v1h-1zM879 438h2v1h-2zM1004 438h3v1h-3zM1068 438h2v1h-2zM93 439h1v1h-1zM822 439h2v1h-2zM877 439h2v1h-2zM1070 439h2v1h-2zM92 440h1v1h-1zM824 440h1v1h-1zM876 440h1v1h-1zM1072 440h1v1h-1zM91 441h1v1h-1zM825 441h3v1h-3zM874 441h2v1h-2zM1073 441h1v1h-1zM90 442h1v1h-1zM828 442h4v1h-4zM873 442h1v1h-1zM1074 442h1v1h-1zM89 443h1v1h-1zM832 443h2v1h-2zM871 443h2v1h-2zM1075 443h1v1h-1zM88 444h1v1h-1zM834 444h2v1h-2zM869 444h2v1h-2zM1076 444h1v1h-1zM86 445h2v1h-2zM836 445h1v1h-1zM867 445h2v1h-2zM1077 445h1v1h-1zM85 446h1v1h-1zM837 446h2v1h-2zM864 446h3v1h-3zM1078 446h1v1h-1zM84 447h1v1h-1zM839 447h2v1h-2zM861 447h3v1h-3zM82 448h2v1h-2zM841 448h7v1h-7zM859 448h2v1h-2zM81 449h1v1h-1zM848 449h11v1h-11zM1080 449h1v1h-1zM80 450h1v1h-1zM1081 450h1v1h-1zM78 451h2v1h-2zM1082 451h1v1h-1zM77 452h1v1h-1zM1083 452h1v1h-1zM75 453h2v1h-2zM1084 453h1v1h-1zM73 454h2v1h-2zM1085 454h1v1h-1zM71 455h2v1h-2zM1086 455h2v1h-2zM68 456h3v1h-3zM1088 456h1v1h-1zM1112 456h8v1h-8zM65 457h3v1h-3zM1089 457h3v1h-3zM1104 457h8v1h-8zM1120 457h2v1h-2zM63 458h2v1h-2zM1092 458h4v1h-4zM1100 458h4v1h-4zM1122 458h2v1h-2zM61 459h2v1h-2zM1096 459h4v1h-4zM1124 459h1v1h-1zM59 460h2v1h-2zM1125 460h1v1h-1zM57 461h2v1h-2zM1126 461h2v1h-2zM56 462h1v1h-1zM1128 462h1v1h-1zM5 463h2v1h-2zM54 463h2v1h-2zM1129 463h1v1h-1zM7 464h2v1h-2zM52 464h2v1h-2zM1130 464h2v1h-2zM9 465h3v1h-3zM49 465h3v1h-3zM1132 465h1v1h-1zM12 466h3v1h-3zM47 466h2v1h-2zM1133 466h1v1h-1zM15 467h2v1h-2zM44 467h3v1h-3zM1134 467h2v1h-2zM17 468h3v1h-3zM40 468h4v1h-4zM1136 468h1v1h-1zM20 469h4v1h-4zM36 469h4v1h-4zM1137 469h1v1h-1zM24 470h12v1h-12zM1138 470h1v1h-1zM1139 471h1v1h-1zM1140 472h1v1h-1zM1141 473h1v1h-1zM1142 474h1v1h-1zM1144 477h1v1h-1zM1145 478h1v1h-1zM1146 479h1v1h-1zM1148 482h1v1h-1zM1149 483h1v1h-1zM1150 484h1v1h-1zM1152 487h1v1h-1zM1153 488h1v1h-1zM1154 489h1v1h-1zM1156 492h1v1h-1zM1157 493h1v1h-1zM1159 496h1v1h-1zM1161 499h1v1h-1zM1162 500h1v1h-1zM1164 503h1v1h-1zM1165 504h1v1h-1zM1166 505h1v1h-1zM1168 508h1v1h-1zM1169 509h1v1h-1zM1170 510h1v1h-1zM1171 511h1v1h-1zM1172 512h1v1h-1zM1173 513h1v1h-1zM1174 514h1v1h-1zM1175 515h1v1h-1zM1176 516h1v1h-1zM1177 517h1v1h-1zM1178 518h1v1h-1zM1179 519h1v1h-1zM1180 520h1v1h-1zM1181 521h1v1h-1zM1182 522h1v1h-1zM1183 523h1v1h-1zM1184 524h1v1h-1zM1224 524h8v1h-8zM1185 525h1v1h-1zM1221 525h3v1h-3zM1232 525h8v1h-8zM1244 525h3v1h-3zM1186 526h1v1h-1zM1219 526h2v1h-2zM1240 526h4v1h-4zM1247 526h2v1h-2zM1187 527h1v1h-1zM1216 527h3v1h-3zM1249 527h3v1h-3zM1188 528h1v1h-1zM1212 528h4v1h-4zM1252 528h2v1h-2zM1189 529h1v1h-1zM1208 529h4v1h-4zM1254 529h2v1h-2zM1190 530h2v1h-2zM1205 530h3v1h-3zM1256 530h1v1h-1zM1192 531h1v1h-1zM1204 531h1v1h-1zM1257 531h1v1h-1zM1193 532h2v1h-2zM1202 532h2v1h-2zM1258 532h1v1h-1zM1195 533h2v1h-2zM1200 533h2v1h-2zM1259 533h1v1h-1zM1197 534h3v1h-3zM1260 534h1v1h-1zM1261 535h2v1h-2zM1263 536h2v1h-2zM1265 537h3v1h-3zM1268 538h1v1h-1zM301 153h1v2h-1zM295 154h1v2h-1zM302 155h1v2h-1zM303 157h1v2h-1zM304 159h1v2h-1zM307 163h1v2h-1zM280 166h1v2h-1zM278 169h1v2h-1zM313 170h1v2h-1zM314 172h1v2h-1zM275 173h1v2h-1zM315 174h1v2h-1zM273 176h1v2h-1zM316 176h1v2h-1zM272 178h1v4h-1zM317 178h1v3h-1zM318 181h1v2h-1zM271 182h1v3h-1zM319 183h1v2h-1zM270 185h1v4h-1zM320 185h1v2h-1zM321 187h1v3h-1zM269 189h1v4h-1zM322 190h1v2h-1zM323 192h1v2h-1zM268 193h1v5h-1zM324 194h1v2h-1zM325 196h1v2h-1zM267 198h1v4h-1zM326 198h1v2h-1zM327 200h1v2h-1zM266 202h1v5h-1zM328 202h1v2h-1zM265 207h1v5h-1zM264 212h1v5h-1zM263 217h1v5h-1zM262 222h1v5h-1zM261 227h1v5h-1zM491 230h1v2h-1zM260 232h1v5h-1zM495 235h1v2h-1zM259 237h1v4h-1zM499 240h1v2h-1zM258 241h1v5h-1zM501 243h1v2h-1zM502 245h1v2h-1zM257 246h1v5h-1zM503 247h1v2h-1zM504 249h1v2h-1zM256 251h1v4h-1zM505 251h1v3h-1zM506 254h1v3h-1zM255 255h1v5h-1zM507 257h1v2h-1zM508 259h1v3h-1zM254 260h1v4h-1zM509 262h1v3h-1zM253 264h1v5h-1zM510 265h1v2h-1zM511 267h1v2h-1zM252 269h1v5h-1zM512 269h1v2h-1zM514 272h1v2h-1zM251 274h1v5h-1zM515 274h1v2h-1zM516 276h1v2h-1zM517 278h1v2h-1zM250 279h1v5h-1zM518 280h1v2h-1zM519 282h1v2h-1zM249 284h1v5h-1zM520 284h1v2h-1zM521 286h1v3h-1zM248 289h1v5h-1zM522 289h1v2h-1zM523 291h1v2h-1zM524 293h1v2h-1zM247 294h1v6h-1zM525 295h1v3h-1zM526 298h1v3h-1zM246 300h1v5h-1zM527 301h1v3h-1zM528 304h1v3h-1zM245 305h1v4h-1zM529 307h1v3h-1zM244 309h1v4h-1zM530 310h1v2h-1zM531 312h1v3h-1zM243 313h1v3h-1zM532 315h1v2h-1zM242 316h1v4h-1zM533 317h1v3h-1zM241 320h1v3h-1zM534 320h1v3h-1zM240 323h1v2h-1zM535 323h1v2h-1zM239 325h1v3h-1zM536 325h1v3h-1zM238 328h1v2h-1zM537 328h1v2h-1zM591 328h1v2h-1zM237 330h1v3h-1zM539 331h1v2h-1zM236 333h1v2h-1zM235 335h1v3h-1zM234 338h1v2h-1zM233 340h1v3h-1zM232 343h1v3h-1zM231 346h1v4h-1zM230 350h1v3h-1zM229 353h1v3h-1zM228 356h1v2h-1zM227 358h1v3h-1zM226 361h1v2h-1zM225 363h1v3h-1zM224 366h1v2h-1zM223 368h1v2h-1zM222 370h1v2h-1zM221 372h1v3h-1zM220 375h1v2h-1zM727 375h1v2h-1zM219 377h1v3h-1zM218 380h1v2h-1zM217 382h1v2h-1zM215 385h1v2h-1zM958 402h1v2h-1zM960 405h1v2h-1zM963 409h1v2h-1zM903 416h1v2h-1zM895 424h1v2h-1zM103 429h1v2h-1zM891 429h1v2h-1zM1079 447h1v2h-1zM1143 475h1v2h-1zM1147 480h1v2h-1zM1151 485h1v2h-1zM1155 490h1v2h-1zM1158 494h1v2h-1zM1160 497h1v2h-1zM1163 501h1v2h-1zM1167 506h1v2h-1z" fill="#ff0000"/>
<path d="M266 106h2v1h-2zM268 107h1v1h-1zM269 108h1v1h-1zM271 111h1v1h-1zM306 184h2v1h-2zM308 185h5v1h-5zM379 194h2v1h-2zM299 195h2v1h-2zM377 195h2v1h-2zM298 196h1v1h-1zM376 196h1v1h-1zM375 197h1v1h-1zM318 198h1v1h-1zM374 198h1v1h-1zM365 199h9v1h-9zM364 200h1v1h-1zM320 201h1v1h-1zM362 203h1v1h-1zM453 203h2v1h-2zM361 204h1v1h-1zM419 204h1v1h-1zM452 204h1v1h-1zM455 204h2v1h-2zM451 205h1v1h-1zM450 206h1v1h-1zM449 207h1v1h-1zM389 209h1v1h-1zM390 210h1v1h-1zM356 213h1v1h-1zM392 213h1v1h-1zM354 214h2v1h-2zM412 214h1v1h-1zM353 215h1v1h-1zM411 215h1v1h-1zM352 216h1v1h-1zM410 216h1v1h-1zM409 217h1v1h-1zM408 218h1v1h-1zM350 219h1v1h-1zM349 220h1v1h-1zM406 221h1v1h-1zM405 222h1v1h-1zM403 223h2v1h-2zM398 224h5v1h-5zM429 224h5v1h-5zM435 227h1v1h-1zM439 227h1v1h-1zM333 228h3v1h-3zM336 229h2v1h-2zM437 230h1v1h-1zM481 230h1v1h-1zM480 231h1v1h-1zM482 231h1v1h-1zM339 232h1v1h-1zM469 232h1v1h-1zM483 232h1v1h-1zM470 233h1v1h-1zM484 233h1v1h-1zM471 234h1v1h-1zM478 234h1v1h-1zM341 235h1v1h-1zM472 235h1v1h-1zM476 235h2v1h-2zM473 236h3v1h-3zM604 308h2v1h-2zM602 309h2v1h-2zM606 309h1v1h-1zM607 310h1v1h-1zM608 311h1v1h-1zM609 312h1v1h-1zM611 315h1v1h-1zM613 318h1v1h-1zM596 319h1v1h-1zM614 319h1v1h-1zM615 320h1v1h-1zM616 321h1v1h-1zM594 322h1v1h-1zM617 322h1v1h-1zM593 323h1v1h-1zM592 324h1v1h-1zM558 327h14v1h-14zM590 327h1v1h-1zM653 327h1v1h-1zM572 328h4v1h-4zM589 328h1v1h-1zM652 328h1v1h-1zM654 328h2v1h-2zM576 329h3v1h-3zM588 329h1v1h-1zM621 329h1v1h-1zM645 329h3v1h-3zM650 329h2v1h-2zM656 329h1v1h-1zM579 330h2v1h-2zM586 330h2v1h-2zM622 330h2v1h-2zM643 330h2v1h-2zM648 330h2v1h-2zM657 330h1v1h-1zM581 331h5v1h-5zM624 331h1v1h-1zM628 331h2v1h-2zM641 331h2v1h-2zM658 331h2v1h-2zM625 332h3v1h-3zM630 332h2v1h-2zM640 332h1v1h-1zM660 332h1v1h-1zM632 333h1v1h-1zM638 333h2v1h-2zM661 333h3v1h-3zM633 334h5v1h-5zM664 334h6v1h-6zM670 335h2v1h-2zM672 336h1v1h-1zM673 337h1v1h-1zM674 338h1v1h-1zM675 339h1v1h-1zM676 340h1v1h-1zM677 341h1v1h-1zM529 363h1v1h-1zM530 364h2v1h-2zM532 365h1v1h-1zM533 366h1v1h-1zM689 366h1v1h-1zM690 367h1v1h-1zM535 369h1v1h-1zM539 369h1v1h-1zM692 370h1v1h-1zM693 371h1v1h-1zM537 372h1v1h-1zM694 372h2v1h-2zM696 373h1v1h-1zM697 374h1v1h-1zM698 375h2v1h-2zM700 376h1v1h-1zM708 376h3v1h-3zM721 376h4v1h-4zM201 377h2v1h-2zM211 377h2v1h-2zM701 377h7v1h-7zM711 377h2v1h-2zM719 377h2v1h-2zM917 377h2v1h-2zM199 378h2v1h-2zM203 378h2v1h-2zM208 378h3v1h-3zM713 378h6v1h-6zM915 378h2v1h-2zM919 378h2v1h-2zM197 379h2v1h-2zM205 379h3v1h-3zM913 379h2v1h-2zM921 379h1v1h-1zM195 380h2v1h-2zM912 380h1v1h-1zM193 381h2v1h-2zM910 381h2v1h-2zM192 382h1v1h-1zM909 382h1v1h-1zM923 382h1v1h-1zM908 383h1v1h-1zM190 385h1v1h-1zM925 385h1v1h-1zM189 386h1v1h-1zM730 386h1v1h-1zM906 386h1v1h-1zM926 386h1v1h-1zM927 387h1v1h-1zM928 388h1v1h-1zM732 389h1v1h-1zM749 389h2v1h-2zM929 389h1v1h-1zM733 390h7v1h-7zM747 390h2v1h-2zM751 390h2v1h-2zM930 390h1v1h-1zM740 391h7v1h-7zM931 391h1v1h-1zM932 392h1v1h-1zM933 393h1v1h-1zM1031 397h1v1h-1zM121 399h6v1h-6zM119 400h2v1h-2zM127 400h2v1h-2zM937 400h1v1h-1zM1029 400h1v1h-1zM117 401h2v1h-2zM129 401h2v1h-2zM938 401h2v1h-2zM1028 401h1v1h-1zM115 402h2v1h-2zM131 402h2v1h-2zM940 402h1v1h-1zM113 403h2v1h-2zM133 403h2v1h-2zM941 403h5v1h-5zM112 404h1v1h-1zM135 404h2v1h-2zM946 404h1v1h-1zM1026 404h1v1h-1zM111 405h1v1h-1zM137 405h1v1h-1zM110 406h1v1h-1zM138 406h1v1h-1zM109 407h1v1h-1zM139 407h1v1h-1zM761 407h1v1h-1zM948 407h1v1h-1zM108 408h1v1h-1zM140 408h1v1h-1zM762 408h1v1h-1zM106 409h2v1h-2zM141 409h2v1h-2zM105 410h1v1h-1zM143 410h2v1h-2zM104 411h1v1h-1zM145 411h3v1h-3zM177 411h1v1h-1zM764 411h1v1h-1zM103 412h1v1h-1zM148 412h4v1h-4zM176 412h1v1h-1zM765 412h1v1h-1zM102 413h1v1h-1zM152 413h4v1h-4zM174 413h2v1h-2zM766 413h1v1h-1zM101 414h1v1h-1zM156 414h3v1h-3zM173 414h1v1h-1zM100 415h1v1h-1zM159 415h2v1h-2zM172 415h1v1h-1zM98 416h2v1h-2zM161 416h3v1h-3zM170 416h2v1h-2zM768 416h1v1h-1zM97 417h1v1h-1zM164 417h6v1h-6zM769 417h1v1h-1zM96 418h1v1h-1zM770 418h2v1h-2zM772 419h1v1h-1zM773 420h2v1h-2zM94 421h1v1h-1zM775 421h2v1h-2zM93 422h1v1h-1zM777 422h1v1h-1zM91 423h2v1h-2zM778 423h1v1h-1zM89 424h2v1h-2zM779 424h1v1h-1zM88 425h1v1h-1zM780 425h1v1h-1zM888 425h1v1h-1zM781 426h1v1h-1zM796 426h3v1h-3zM782 427h2v1h-2zM793 427h3v1h-3zM799 427h2v1h-2zM86 428h1v1h-1zM784 428h1v1h-1zM791 428h2v1h-2zM801 428h1v1h-1zM886 428h1v1h-1zM85 429h1v1h-1zM785 429h6v1h-6zM802 429h1v1h-1zM876 429h4v1h-4zM884 429h2v1h-2zM84 430h1v1h-1zM803 430h1v1h-1zM861 430h2v1h-2zM869 430h7v1h-7zM880 430h4v1h-4zM981 430h7v1h-7zM83 431h1v1h-1zM804 431h1v1h-1zM863 431h2v1h-2zM867 431h2v1h-2zM980 431h1v1h-1zM988 431h2v1h-2zM82 432h1v1h-1zM805 432h1v1h-1zM865 432h2v1h-2zM961 432h1v1h-1zM979 432h1v1h-1zM81 433h1v1h-1zM806 433h1v1h-1zM859 433h1v1h-1zM978 433h1v1h-1zM80 434h1v1h-1zM977 434h1v1h-1zM991 434h1v1h-1zM78 435h2v1h-2zM976 435h1v1h-1zM77 436h1v1h-1zM808 436h1v1h-1zM857 436h1v1h-1zM974 436h2v1h-2zM1012 436h1v1h-1zM76 437h1v1h-1zM809 437h1v1h-1zM973 437h1v1h-1zM993 437h1v1h-1zM1009 437h3v1h-3zM75 438h1v1h-1zM994 438h2v1h-2zM1008 438h1v1h-1zM74 439h1v1h-1zM965 439h1v1h-1zM996 439h1v1h-1zM73 440h1v1h-1zM811 440h1v1h-1zM966 440h1v1h-1zM997 440h2v1h-2zM999 441h2v1h-2zM1006 441h1v1h-1zM1001 442h5v1h-5zM71 443h1v1h-1zM853 443h1v1h-1zM968 443h1v1h-1zM852 444h1v1h-1zM969 444h1v1h-1zM850 445h2v1h-2zM69 446h1v1h-1zM849 446h1v1h-1zM68 447h1v1h-1zM847 447h2v1h-2zM1084 447h3v1h-3zM67 448h1v1h-1zM845 448h2v1h-2zM1081 448h3v1h-3zM1087 448h2v1h-2zM66 449h1v1h-1zM1080 449h1v1h-1zM1089 449h1v1h-1zM65 450h1v1h-1zM1078 450h2v1h-2zM1090 450h1v1h-1zM64 451h1v1h-1zM817 451h1v1h-1zM1091 451h1v1h-1zM63 452h1v1h-1zM818 452h1v1h-1zM1092 452h1v1h-1zM62 453h1v1h-1zM1093 453h1v1h-1zM61 454h1v1h-1zM1094 454h2v1h-2zM60 455h1v1h-1zM820 455h1v1h-1zM841 455h1v1h-1zM1096 455h1v1h-1zM1100 455h7v1h-7zM59 456h1v1h-1zM821 456h1v1h-1zM839 456h2v1h-2zM1097 456h3v1h-3zM1107 456h2v1h-2zM58 457h1v1h-1zM822 457h2v1h-2zM829 457h10v1h-10zM1109 457h1v1h-1zM57 458h1v1h-1zM824 458h1v1h-1zM827 458h2v1h-2zM1110 458h1v1h-1zM56 459h1v1h-1zM825 459h2v1h-2zM1111 459h1v1h-1zM28 460h3v1h-3zM55 460h1v1h-1zM1112 460h1v1h-1zM24 461h4v1h-4zM31 461h2v1h-2zM54 461h1v1h-1zM1113 461h2v1h-2zM21 462h3v1h-3zM33 462h3v1h-3zM44 462h4v1h-4zM52 462h2v1h-2zM1115 462h2v1h-2zM20 463h1v1h-1zM36 463h8v1h-8zM48 463h4v1h-4zM1071 463h1v1h-1zM1117 463h1v1h-1zM18 466h1v1h-1zM1057 466h1v1h-1zM1069 466h1v1h-1zM1119 466h1v1h-1zM17 467h1v1h-1zM1068 467h1v1h-1zM16 468h1v1h-1zM14 469h2v1h-2zM1121 469h1v1h-1zM13 470h1v1h-1zM1066 470h1v1h-1zM1122 470h1v1h-1zM1065 471h1v1h-1zM1063 472h2v1h-2zM11 473h1v1h-1zM1061 473h2v1h-2zM1124 473h1v1h-1zM1125 474h1v1h-1zM1126 475h1v1h-1zM9 476h1v1h-1zM1127 476h1v1h-1zM8 477h1v1h-1zM1128 477h1v1h-1zM6 478h2v1h-2zM1129 478h1v1h-1zM5 479h1v1h-1zM1130 479h2v1h-2zM1132 480h1v1h-1zM1133 481h1v1h-1zM1134 482h1v1h-1zM1135 483h1v1h-1zM1136 484h1v1h-1zM1137 485h1v1h-1zM1138 486h1v1h-1zM1140 489h1v1h-1zM1217 509h5v1h-5zM1216 510h1v1h-1zM1214 511h2v1h-2zM1213 512h1v1h-1zM1223 512h1v1h-1zM1212 513h1v1h-1zM1210 514h2v1h-2zM1209 515h1v1h-1zM1225 515h1v1h-1zM1227 518h1v1h-1zM1229 521h1v1h-1zM1230 522h1v1h-1zM1157 524h1v1h-1zM1158 525h2v1h-2zM1232 525h1v1h-1zM1160 526h1v1h-1zM1233 526h1v1h-1zM1161 527h1v1h-1zM1162 528h1v1h-1zM1164 531h1v1h-1zM1165 532h6v1h-6zM1171 533h2v1h-2zM1237 533h1v1h-1zM1173 534h3v1h-3zM1176 535h2v1h-2zM1178 536h1v1h-1zM1185 536h1v1h-1zM1239 536h1v1h-1zM1179 537h1v1h-1zM1184 537h1v1h-1zM1186 537h2v1h-2zM1180 538h1v1h-1zM1182 538h2v1h-2zM1188 538h1v1h-1zM1192 538h6v1h-6zM1181 539h1v1h-1zM1189 539h3v1h-3zM1241 539h1v1h-1zM1242 540h1v1h-1zM1243 541h1v1h-1zM1244 542h1v1h-1zM1245 543h1v1h-1zM1268 543h1v1h-1zM1246 544h2v1h-2zM1267 544h1v1h-1zM1248 545h1v1h-1zM1266 545h1v1h-1zM1249 546h3v1h-3zM1265 546h1v1h-1zM1252 547h4v1h-4zM1264 547h1v1h-1zM1256 548h3v1h-3zM1263 548h1v1h-1zM1259 549h2v1h-2zM1262 549h1v1h-1zM1261 550h1v1h-1zM265 105h1v3h-1zM264 108h1v4h-1zM270 109h1v2h-1zM263 112h1v5h-1zM272 112h1v2h-1zM273 114h1v3h-1zM262 117h1v4h-1zM274 117h1v4h-1zM261 121h1v5h-1zM275 121h1v4h-1zM276 125h1v4h-1zM260 126h1v6h-1zM277 129h1v4h-1zM259 132h1v6h-1zM278 133h1v4h-1zM279 137h1v5h-1zM258 138h1v6h-1zM280 142h1v4h-1zM257 144h1v5h-1zM281 146h1v6h-1zM256 149h1v6h-1zM282 152h1v8h-1zM255 155h1v5h-1zM254 160h1v6h-1zM283 160h1v7h-1zM253 166h1v5h-1zM284 167h1v8h-1zM252 171h1v6h-1zM285 175h1v6h-1zM251 177h1v6h-1zM286 181h1v4h-1zM250 183h1v6h-1zM305 184h1v2h-1zM287 185h1v4h-1zM313 185h1v2h-1zM304 186h1v2h-1zM314 187h1v3h-1zM303 188h1v3h-1zM249 189h1v8h-1zM288 189h1v4h-1zM315 190h1v3h-1zM302 191h1v2h-1zM289 193h1v3h-1zM301 193h1v2h-1zM316 193h1v3h-1zM381 193h1v2h-1zM382 195h1v2h-1zM290 196h1v3h-1zM297 196h1v2h-1zM317 196h1v2h-1zM248 197h1v8h-1zM383 197h1v2h-1zM296 198h1v2h-1zM291 199h1v2h-1zM319 199h1v2h-1zM384 199h1v2h-1zM295 200h1v2h-1zM292 201h1v3h-1zM363 201h1v2h-1zM385 201h1v2h-1zM417 201h1v2h-1zM294 202h1v2h-1zM321 202h1v2h-1zM418 202h1v2h-1zM386 203h1v2h-1zM416 203h1v3h-1zM293 204h1v2h-1zM322 204h1v2h-1zM247 205h1v9h-1zM360 205h1v2h-1zM387 205h1v2h-1zM420 205h1v2h-1zM457 205h1v2h-1zM323 206h1v2h-1zM415 206h1v3h-1zM359 207h1v2h-1zM388 207h1v2h-1zM421 207h1v2h-1zM458 207h1v3h-1zM324 208h1v2h-1zM448 208h1v2h-1zM358 209h1v2h-1zM414 209h1v3h-1zM422 209h1v2h-1zM325 210h1v2h-1zM447 210h1v2h-1zM459 210h1v2h-1zM357 211h1v2h-1zM391 211h1v2h-1zM423 211h1v2h-1zM326 212h1v2h-1zM413 212h1v2h-1zM446 212h1v2h-1zM460 212h1v3h-1zM424 213h1v2h-1zM246 214h1v8h-1zM327 214h1v3h-1zM393 214h1v2h-1zM445 214h1v3h-1zM425 215h1v3h-1zM461 215h1v3h-1zM394 216h1v2h-1zM328 217h1v2h-1zM351 217h1v2h-1zM444 217h1v2h-1zM395 218h1v3h-1zM426 218h1v2h-1zM462 218h1v2h-1zM329 219h1v3h-1zM407 219h1v2h-1zM443 219h1v2h-1zM427 220h1v2h-1zM463 220h1v2h-1zM348 221h1v2h-1zM396 221h1v2h-1zM442 221h1v2h-1zM245 222h1v7h-1zM330 222h1v2h-1zM428 222h1v2h-1zM464 222h1v2h-1zM347 223h1v2h-1zM397 223h1v2h-1zM441 223h1v2h-1zM331 224h1v2h-1zM465 224h1v2h-1zM346 225h1v2h-1zM434 225h1v2h-1zM440 225h1v2h-1zM332 226h1v2h-1zM466 226h1v2h-1zM345 227h1v2h-1zM436 228h1v2h-1zM438 228h1v2h-1zM467 228h1v2h-1zM244 229h1v6h-1zM344 229h1v2h-1zM338 230h1v2h-1zM468 230h1v2h-1zM343 231h1v2h-1zM479 232h1v2h-1zM340 233h1v2h-1zM342 233h1v2h-1zM485 234h1v2h-1zM243 235h1v5h-1zM486 236h1v2h-1zM487 238h1v2h-1zM242 240h1v6h-1zM488 240h1v2h-1zM489 242h1v3h-1zM490 245h1v3h-1zM241 246h1v4h-1zM491 248h1v4h-1zM240 250h1v2h-1zM239 252h1v3h-1zM492 252h1v3h-1zM238 255h1v2h-1zM493 255h1v3h-1zM237 257h1v4h-1zM494 258h1v2h-1zM495 260h1v3h-1zM236 261h1v5h-1zM496 263h1v2h-1zM497 265h1v3h-1zM235 266h1v5h-1zM498 268h1v2h-1zM499 270h1v3h-1zM234 271h1v5h-1zM500 273h1v2h-1zM501 275h1v3h-1zM233 276h1v6h-1zM502 278h1v3h-1zM503 281h1v2h-1zM232 282h1v7h-1zM504 283h1v3h-1zM505 286h1v3h-1zM231 289h1v8h-1zM506 289h1v3h-1zM507 292h1v4h-1zM508 296h1v3h-1zM230 297h1v7h-1zM509 299h1v3h-1zM510 302h1v4h-1zM229 304h1v6h-1zM511 306h1v3h-1zM512 309h1v4h-1zM601 309h1v2h-1zM228 310h1v6h-1zM600 311h1v2h-1zM513 313h1v3h-1zM599 313h1v2h-1zM610 313h1v2h-1zM598 315h1v2h-1zM227 316h1v5h-1zM514 316h1v4h-1zM612 316h1v2h-1zM597 317h1v2h-1zM515 320h1v4h-1zM595 320h1v2h-1zM226 321h1v6h-1zM618 323h1v2h-1zM516 324h1v4h-1zM591 325h1v2h-1zM619 325h1v2h-1zM225 327h1v5h-1zM557 327h1v2h-1zM620 327h1v2h-1zM517 328h1v4h-1zM556 329h1v2h-1zM555 331h1v2h-1zM224 332h1v4h-1zM518 332h1v4h-1zM554 333h1v2h-1zM553 335h1v3h-1zM223 336h1v5h-1zM519 336h1v5h-1zM552 338h1v2h-1zM551 340h1v3h-1zM222 341h1v4h-1zM520 341h1v4h-1zM678 342h1v2h-1zM550 343h1v2h-1zM679 344h1v2h-1zM221 345h1v5h-1zM521 345h1v4h-1zM549 345h1v3h-1zM680 346h1v2h-1zM548 348h1v3h-1zM681 348h1v2h-1zM522 349h1v2h-1zM220 350h1v5h-1zM682 350h1v2h-1zM523 351h1v2h-1zM547 351h1v3h-1zM683 352h1v3h-1zM524 353h1v2h-1zM546 354h1v3h-1zM219 355h1v4h-1zM525 355h1v2h-1zM684 355h1v2h-1zM526 357h1v2h-1zM545 357h1v2h-1zM685 357h1v3h-1zM218 359h1v5h-1zM527 359h1v2h-1zM544 359h1v2h-1zM686 360h1v2h-1zM528 361h1v2h-1zM543 361h1v2h-1zM687 362h1v2h-1zM542 363h1v2h-1zM217 364h1v4h-1zM688 364h1v2h-1zM541 365h1v2h-1zM534 367h1v2h-1zM540 367h1v2h-1zM216 368h1v2h-1zM691 368h1v2h-1zM215 370h1v3h-1zM536 370h1v2h-1zM538 370h1v2h-1zM214 373h1v2h-1zM213 375h1v2h-1zM725 376h1v2h-1zM726 378h1v2h-1zM727 380h1v2h-1zM922 380h1v2h-1zM728 382h1v2h-1zM191 383h1v2h-1zM924 383h1v2h-1zM729 384h1v2h-1zM907 384h1v2h-1zM188 387h1v2h-1zM731 387h1v2h-1zM905 387h1v2h-1zM187 389h1v2h-1zM904 389h1v3h-1zM186 391h1v2h-1zM753 391h1v2h-1zM903 392h1v2h-1zM185 393h1v2h-1zM754 393h1v2h-1zM902 394h1v3h-1zM934 394h1v2h-1zM1033 394h1v2h-1zM184 395h1v3h-1zM755 395h1v2h-1zM1032 395h1v2h-1zM935 396h1v2h-1zM1034 396h1v3h-1zM756 397h1v2h-1zM901 397h1v3h-1zM183 398h1v2h-1zM936 398h1v2h-1zM1030 398h1v2h-1zM757 399h1v2h-1zM1035 399h1v2h-1zM182 400h1v3h-1zM900 400h1v2h-1zM758 401h1v2h-1zM1036 401h1v3h-1zM899 402h1v3h-1zM1027 402h1v2h-1zM181 403h1v2h-1zM759 403h1v2h-1zM1037 404h1v3h-1zM180 405h1v2h-1zM760 405h1v2h-1zM898 405h1v2h-1zM947 405h1v2h-1zM1025 405h1v2h-1zM179 407h1v2h-1zM897 407h1v2h-1zM1024 407h1v2h-1zM1038 407h1v3h-1zM949 408h1v2h-1zM178 409h1v2h-1zM763 409h1v2h-1zM896 409h1v2h-1zM1023 409h1v3h-1zM950 410h1v2h-1zM1039 410h1v2h-1zM895 411h1v2h-1zM951 412h1v2h-1zM1022 412h1v2h-1zM1040 412h1v3h-1zM894 413h1v2h-1zM767 414h1v2h-1zM952 414h1v2h-1zM1021 414h1v3h-1zM893 415h1v2h-1zM1041 415h1v4h-1zM953 416h1v2h-1zM892 417h1v2h-1zM1020 417h1v3h-1zM954 418h1v2h-1zM95 419h1v2h-1zM891 419h1v2h-1zM1042 419h1v4h-1zM955 420h1v2h-1zM1019 420h1v2h-1zM890 421h1v2h-1zM956 422h1v2h-1zM1018 422h1v3h-1zM889 423h1v2h-1zM1043 423h1v4h-1zM957 424h1v2h-1zM1017 425h1v3h-1zM87 426h1v2h-1zM887 426h1v2h-1zM958 426h1v2h-1zM1044 427h1v4h-1zM959 428h1v2h-1zM1016 428h1v2h-1zM960 430h1v2h-1zM1015 430h1v3h-1zM860 431h1v2h-1zM1045 431h1v3h-1zM990 432h1v2h-1zM962 433h1v2h-1zM1014 433h1v2h-1zM807 434h1v2h-1zM858 434h1v2h-1zM1046 434h1v4h-1zM963 435h1v2h-1zM992 435h1v2h-1zM1013 435h1v2h-1zM856 437h1v2h-1zM964 437h1v2h-1zM810 438h1v2h-1zM972 438h1v2h-1zM1047 438h1v4h-1zM855 439h1v2h-1zM1007 439h1v2h-1zM971 440h1v2h-1zM72 441h1v2h-1zM812 441h1v2h-1zM854 441h1v2h-1zM967 441h1v2h-1zM970 442h1v2h-1zM1048 442h1v4h-1zM813 443h1v2h-1zM70 444h1v2h-1zM814 445h1v2h-1zM1049 446h1v3h-1zM815 447h1v2h-1zM816 449h1v2h-1zM844 449h1v2h-1zM1050 449h1v3h-1zM843 451h1v2h-1zM1077 451h1v2h-1zM1051 452h1v3h-1zM819 453h1v2h-1zM842 453h1v2h-1zM1076 453h1v2h-1zM1052 455h1v3h-1zM1075 455h1v2h-1zM1074 457h1v2h-1zM1053 458h1v2h-1zM1073 459h1v2h-1zM1054 460h1v2h-1zM1072 461h1v2h-1zM1055 462h1v2h-1zM19 464h1v2h-1zM1056 464h1v2h-1zM1070 464h1v2h-1zM1118 464h1v2h-1zM1058 467h1v2h-1zM1120 467h1v2h-1zM1067 468h1v2h-1zM1059 469h1v2h-1zM12 471h1v2h-1zM1060 471h1v2h-1zM1123 471h1v2h-1zM10 474h1v2h-1zM1139 487h1v2h-1zM1141 490h1v2h-1zM1142 492h1v2h-1zM1143 494h1v2h-1zM1144 496h1v2h-1zM1145 498h1v3h-1zM1146 501h1v2h-1zM1147 503h1v2h-1zM1148 505h1v2h-1zM1149 507h1v3h-1zM1150 510h1v2h-1zM1222 510h1v2h-1zM1151 512h1v2h-1zM1224 513h1v2h-1zM1152 514h1v2h-1zM1153 516h1v2h-1zM1208 516h1v2h-1zM1226 516h1v2h-1zM1154 518h1v2h-1zM1207 518h1v2h-1zM1228 519h1v2h-1zM1155 520h1v2h-1zM1206 520h1v2h-1zM1156 522h1v2h-1zM1205 522h1v2h-1zM1231 523h1v2h-1zM1204 524h1v2h-1zM1203 526h1v2h-1zM1234 527h1v2h-1zM1202 528h1v2h-1zM1163 529h1v2h-1zM1235 529h1v2h-1zM1201 530h1v2h-1zM1236 531h1v2h-1zM1200 532h1v2h-1zM1199 534h1v2h-1zM1238 534h1v2h-1zM1198 536h1v2h-1zM1240 537h1v2h-1z" fill="#ffa500"/>
<rect x="4" y="27" width="1594" height="1" fill="#000"/>
<rect x="4" y="583" width="1594" height="1" fill="#000"/>
<rect x="4" y="27" width="1" height="557" fill="#000"/>
<rect x="1597" y="27" width="1" height="557" fill="#000"/>
<rect x="4" y="585" width="1594" height="1" fill="#000"/>
<rect x="4" y="687" width="1594" height="1" fill="#000"/>
<rect x="4" y="585" width="1" height="103" fill="#000"/>
<rect x="1597" y="585" width="1" height="103" fill="#000"/>
<rect x="4" y="689" width="1594" height="1" fill="#000"/>
<rect x="4" y="790" width="1594" height="1" fill="#000"/>
<rect x="4" y="689" width="1" height="102" fill="#000"/>
<rect x="1597" y="689" width="1" height="102" fill="#000"/>
<rect x="5" y="368" width="1594" height="2" fill="#ff0000"/>
<rect x="5" y="439" width="1594" height="2" fill="#ff0000"/>
<rect x="4" y="437" width="6" height="6" fill="#ff0000"/><rect x="6" y="439" width="2" height="2" fill="#fff"/>
<rect x="1591" y="437" width="6" height="6" fill="#ff0000"/><rect x="1593" y="439" width="2" height="2" fill="#fff"/>
<rect x="5" y="495" width="1594" height="2" fill="#00ff00"/>
<rect x="4" y="493" width="6" height="6" fill="#00ff00"/><rect x="6" y="495" width="2" height="2" fill="#fff"/>
<rect x="1591" y="493" width="6" height="6" fill="#00ff00"/><rect x="1593" y="495" width="2" height="2" fill="#fff"/>
<rect x="5" y="550" width="1594" height="2" fill="#0000ff"/>
<rect x="4" y="548" width="6" height="6" fill="#0000ff"/><rect x="6" y="550" width="2" height="2" fill="#fff"/>
<rect x="1591" y="548" width="6" height="6" fill="#0000ff"/><rect x="1593" y="550" width="2" height="2" fill="#fff"/>
<path d="M249 597h1v1h-1zM248 598h1v1h-1zM250 598h1v1h-1zM247 599h1v1h-1zM233 600h1v1h-1zM246 600h1v1h-1zM231 601h2v1h-2zM245 601h1v1h-1zM252 601h1v1h-1zM222 602h1v1h-1zM229 602h2v1h-2zM244 602h1v1h-1zM253 602h1v1h-1zM223 603h1v1h-1zM228 603h1v1h-1zM112 604h3v1h-3zM224 604h1v1h-1zM226 604h2v1h-2zM104 605h8v1h-8zM115 605h2v1h-2zM120 605h1v1h-1zM225 605h1v1h-1zM242 605h1v1h-1zM101 606h3v1h-3zM117 606h3v1h-3zM240 606h2v1h-2zM265 606h1v1h-1zM99 607h2v1h-2zM237 607h3v1h-3zM263 607h2v1h-2zM266 607h1v1h-1zM97 608h2v1h-2zM185 608h1v1h-1zM260 608h3v1h-3zM267 608h1v1h-1zM96 609h1v1h-1zM257 609h3v1h-3zM268 609h1v1h-1zM94 610h2v1h-2zM92 611h2v1h-2zM183 611h1v1h-1zM187 611h1v1h-1zM85 612h7v1h-7zM83 613h2v1h-2zM81 614h2v1h-2zM181 614h1v1h-1zM189 614h1v1h-1zM80 615h1v1h-1zM190 615h2v1h-2zM78 616h2v1h-2zM192 616h1v1h-1zM76 617h2v1h-2zM905 617h2v1h-2zM73 618h3v1h-3zM209 618h3v1h-3zM904 618h1v1h-1zM907 618h2v1h-2zM72 619h1v1h-1zM127 619h1v1h-1zM208 619h1v1h-1zM212 619h1v1h-1zM902 619h2v1h-2zM909 619h1v1h-1zM206 620h2v1h-2zM897 620h5v1h-5zM910 620h1v1h-1zM177 621h1v1h-1zM201 621h5v1h-5zM896 621h1v1h-1zM911 621h1v1h-1zM916 621h1v1h-1zM70 622h1v1h-1zM129 622h1v1h-1zM176 622h1v1h-1zM895 622h1v1h-1zM912 622h1v1h-1zM914 622h2v1h-2zM61 623h3v1h-3zM68 623h2v1h-2zM130 623h2v1h-2zM174 623h2v1h-2zM894 623h1v1h-1zM913 623h1v1h-1zM1021 623h1v1h-1zM60 624h1v1h-1zM64 624h4v1h-4zM132 624h1v1h-1zM173 624h1v1h-1zM892 624h2v1h-2zM1020 624h1v1h-1zM1022 624h2v1h-2zM59 625h1v1h-1zM133 625h5v1h-5zM172 625h1v1h-1zM890 625h2v1h-2zM1018 625h2v1h-2zM1024 625h1v1h-1zM58 626h1v1h-1zM138 626h2v1h-2zM170 626h2v1h-2zM1025 626h3v1h-3zM140 627h1v1h-1zM1028 627h2v1h-2zM141 628h1v1h-1zM149 628h1v1h-1zM297 628h1v1h-1zM365 628h1v1h-1zM1030 628h1v1h-1zM142 629h2v1h-2zM148 629h1v1h-1zM150 629h1v1h-1zM289 629h2v1h-2zM296 629h1v1h-1zM298 629h1v1h-1zM366 629h2v1h-2zM144 630h1v1h-1zM146 630h2v1h-2zM151 630h1v1h-1zM291 630h2v1h-2zM294 630h2v1h-2zM299 630h1v1h-1zM349 630h1v1h-1zM368 630h1v1h-1zM145 631h1v1h-1zM152 631h1v1h-1zM280 631h2v1h-2zM293 631h1v1h-1zM300 631h1v1h-1zM308 631h4v1h-4zM347 631h2v1h-2zM350 631h1v1h-1zM363 631h1v1h-1zM369 631h1v1h-1zM1032 631h1v1h-1zM1205 631h1v1h-1zM153 632h2v1h-2zM278 632h2v1h-2zM282 632h1v1h-1zM301 632h7v1h-7zM312 632h2v1h-2zM346 632h1v1h-1zM452 632h1v1h-1zM593 632h1v1h-1zM922 632h1v1h-1zM929 632h2v1h-2zM1204 632h1v1h-1zM155 633h2v1h-2zM380 633h2v1h-2zM402 633h2v1h-2zM441 633h11v1h-11zM591 633h2v1h-2zM594 633h2v1h-2zM601 633h1v1h-1zM923 633h1v1h-1zM928 633h1v1h-1zM931 633h2v1h-2zM157 634h2v1h-2zM352 634h1v1h-1zM361 634h1v1h-1zM371 634h1v1h-1zM377 634h3v1h-3zM382 634h1v1h-1zM404 634h6v1h-6zM415 634h1v1h-1zM440 634h1v1h-1zM589 634h2v1h-2zM596 634h1v1h-1zM599 634h2v1h-2zM869 634h1v1h-1zM877 634h1v1h-1zM924 634h1v1h-1zM926 634h2v1h-2zM933 634h1v1h-1zM1009 634h1v1h-1zM1207 634h1v1h-1zM159 635h2v1h-2zM284 635h1v1h-1zM353 635h3v1h-3zM359 635h2v1h-2zM376 635h1v1h-1zM383 635h1v1h-1zM410 635h2v1h-2zM439 635h1v1h-1zM588 635h1v1h-1zM597 635h2v1h-2zM860 635h3v1h-3zM868 635h1v1h-1zM870 635h1v1h-1zM876 635h1v1h-1zM878 635h2v1h-2zM925 635h1v1h-1zM934 635h1v1h-1zM1073 635h2v1h-2zM1202 635h1v1h-1zM161 636h1v1h-1zM285 636h1v1h-1zM356 636h3v1h-3zM374 636h2v1h-2zM384 636h1v1h-1zM412 636h1v1h-1zM433 636h3v1h-3zM438 636h1v1h-1zM473 636h3v1h-3zM603 636h1v1h-1zM846 636h2v1h-2zM857 636h3v1h-3zM863 636h2v1h-2zM866 636h2v1h-2zM871 636h1v1h-1zM875 636h1v1h-1zM880 636h1v1h-1zM883 636h2v1h-2zM935 636h1v1h-1zM944 636h2v1h-2zM974 636h1v1h-1zM1072 636h1v1h-1zM1075 636h2v1h-2zM1266 636h2v1h-2zM162 637h1v1h-1zM321 637h3v1h-3zM373 637h1v1h-1zM385 637h2v1h-2zM413 637h1v1h-1zM432 637h1v1h-1zM436 637h2v1h-2zM472 637h1v1h-1zM476 637h3v1h-3zM641 637h3v1h-3zM653 637h1v1h-1zM848 637h1v1h-1zM855 637h2v1h-2zM865 637h1v1h-1zM872 637h1v1h-1zM874 637h1v1h-1zM881 637h2v1h-2zM936 637h1v1h-1zM940 637h4v1h-4zM1011 637h1v1h-1zM1071 637h1v1h-1zM1077 637h1v1h-1zM1209 637h2v1h-2zM1221 637h1v1h-1zM1268 637h1v1h-1zM45 638h3v1h-3zM163 638h1v1h-1zM319 638h2v1h-2zM324 638h4v1h-4zM387 638h2v1h-2zM479 638h2v1h-2zM586 638h1v1h-1zM640 638h1v1h-1zM644 638h3v1h-3zM652 638h1v1h-1zM665 638h5v1h-5zM849 638h6v1h-6zM873 638h1v1h-1zM937 638h3v1h-3zM1070 638h1v1h-1zM1078 638h1v1h-1zM1211 638h2v1h-2zM1219 638h2v1h-2zM44 639h1v1h-1zM48 639h5v1h-5zM164 639h1v1h-1zM317 639h2v1h-2zM328 639h10v1h-10zM389 639h1v1h-1zM585 639h1v1h-1zM605 639h2v1h-2zM629 639h1v1h-1zM638 639h2v1h-2zM647 639h2v1h-2zM650 639h2v1h-2zM664 639h1v1h-1zM670 639h1v1h-1zM947 639h1v1h-1zM976 639h1v1h-1zM1069 639h1v1h-1zM1213 639h6v1h-6zM29 640h1v1h-1zM42 640h2v1h-2zM338 640h2v1h-2zM390 640h2v1h-2zM430 640h1v1h-1zM470 640h1v1h-1zM569 640h5v1h-5zM607 640h2v1h-2zM612 640h3v1h-3zM628 640h1v1h-1zM630 640h1v1h-1zM637 640h1v1h-1zM649 640h1v1h-1zM663 640h1v1h-1zM977 640h3v1h-3zM1068 640h1v1h-1zM1085 640h2v1h-2zM1101 640h5v1h-5zM1223 640h1v1h-1zM21 641h2v1h-2zM28 641h1v1h-1zM30 641h2v1h-2zM41 641h1v1h-1zM340 641h1v1h-1zM392 641h1v1h-1zM422 641h2v1h-2zM429 641h1v1h-1zM469 641h1v1h-1zM549 641h5v1h-5zM567 641h2v1h-2zM574 641h1v1h-1zM609 641h3v1h-3zM615 641h2v1h-2zM631 641h1v1h-1zM636 641h1v1h-1zM662 641h1v1h-1zM738 641h4v1h-4zM980 641h2v1h-2zM1067 641h1v1h-1zM1080 641h1v1h-1zM1083 641h2v1h-2zM1087 641h2v1h-2zM1092 641h4v1h-4zM1099 641h2v1h-2zM1106 641h1v1h-1zM19 642h2v1h-2zM23 642h2v1h-2zM26 642h2v1h-2zM32 642h1v1h-1zM40 642h1v1h-1zM393 642h3v1h-3zM424 642h1v1h-1zM427 642h2v1h-2zM458 642h1v1h-1zM467 642h2v1h-2zM547 642h2v1h-2zM554 642h2v1h-2zM564 642h3v1h-3zM617 642h3v1h-3zM632 642h1v1h-1zM634 642h2v1h-2zM661 642h1v1h-1zM672 642h1v1h-1zM742 642h2v1h-2zM982 642h2v1h-2zM1066 642h1v1h-1zM1081 642h2v1h-2zM1089 642h3v1h-3zM1096 642h3v1h-3zM18 643h1v1h-1zM25 643h1v1h-1zM33 643h3v1h-3zM38 643h2v1h-2zM396 643h1v1h-1zM425 643h2v1h-2zM459 643h1v1h-1zM465 643h2v1h-2zM545 643h2v1h-2zM556 643h1v1h-1zM560 643h4v1h-4zM620 643h4v1h-4zM626 643h1v1h-1zM633 643h1v1h-1zM659 643h2v1h-2zM673 643h1v1h-1zM744 643h1v1h-1zM984 643h1v1h-1zM1003 643h2v1h-2zM1041 643h1v1h-1zM1065 643h1v1h-1zM1225 643h1v1h-1zM36 644h2v1h-2zM460 644h1v1h-1zM463 644h2v1h-2zM543 644h2v1h-2zM557 644h3v1h-3zM576 644h1v1h-1zM624 644h2v1h-2zM657 644h2v1h-2zM710 644h1v1h-1zM745 644h1v1h-1zM985 644h2v1h-2zM996 644h7v1h-7zM1040 644h1v1h-1zM1064 644h1v1h-1zM1108 644h1v1h-1zM1226 644h2v1h-2zM461 645h2v1h-2zM542 645h1v1h-1zM577 645h2v1h-2zM711 645h1v1h-1zM721 645h1v1h-1zM746 645h1v1h-1zM830 645h1v1h-1zM987 645h2v1h-2zM992 645h4v1h-4zM1038 645h2v1h-2zM1109 645h2v1h-2zM1228 645h1v1h-1zM497 646h2v1h-2zM579 646h2v1h-2zM712 646h1v1h-1zM719 646h2v1h-2zM722 646h2v1h-2zM747 646h1v1h-1zM831 646h1v1h-1zM989 646h3v1h-3zM1111 646h2v1h-2zM1116 646h2v1h-2zM1196 646h1v1h-1zM1229 646h2v1h-2zM485 647h2v1h-2zM496 647h1v1h-1zM499 647h2v1h-2zM713 647h6v1h-6zM724 647h1v1h-1zM748 647h1v1h-1zM793 647h2v1h-2zM832 647h1v1h-1zM965 647h4v1h-4zM1062 647h1v1h-1zM1113 647h3v1h-3zM1118 647h2v1h-2zM1193 647h3v1h-3zM1231 647h2v1h-2zM1241 647h5v1h-5zM1253 647h1v1h-1zM487 648h2v1h-2zM495 648h1v1h-1zM501 648h1v1h-1zM689 648h5v1h-5zM749 648h1v1h-1zM764 648h2v1h-2zM792 648h1v1h-1zM795 648h2v1h-2zM833 648h1v1h-1zM840 648h1v1h-1zM964 648h1v1h-1zM1061 648h1v1h-1zM1120 648h1v1h-1zM1124 648h3v1h-3zM1233 648h2v1h-2zM1240 648h1v1h-1zM1246 648h2v1h-2zM1252 648h1v1h-1zM1254 648h2v1h-2zM489 649h3v1h-3zM494 649h1v1h-1zM694 649h2v1h-2zM750 649h2v1h-2zM761 649h3v1h-3zM766 649h1v1h-1zM791 649h1v1h-1zM797 649h1v1h-1zM834 649h1v1h-1zM957 649h2v1h-2zM963 649h1v1h-1zM1048 649h6v1h-6zM1060 649h1v1h-1zM1121 649h3v1h-3zM1127 649h2v1h-2zM1235 649h2v1h-2zM1238 649h2v1h-2zM1248 649h1v1h-1zM1250 649h2v1h-2zM1256 649h1v1h-1zM1259 649h2v1h-2zM492 650h2v1h-2zM677 650h2v1h-2zM696 650h1v1h-1zM752 650h1v1h-1zM760 650h1v1h-1zM767 650h1v1h-1zM785 650h3v1h-3zM790 650h1v1h-1zM798 650h1v1h-1zM835 650h1v1h-1zM955 650h2v1h-2zM959 650h2v1h-2zM962 650h1v1h-1zM1045 650h3v1h-3zM1054 650h1v1h-1zM1129 650h6v1h-6zM1237 650h1v1h-1zM1249 650h1v1h-1zM1257 650h2v1h-2zM7 651h2v1h-2zM679 651h2v1h-2zM687 651h1v1h-1zM697 651h3v1h-3zM753 651h2v1h-2zM759 651h1v1h-1zM768 651h1v1h-1zM784 651h1v1h-1zM788 651h2v1h-2zM799 651h1v1h-1zM836 651h1v1h-1zM838 651h1v1h-1zM954 651h1v1h-1zM961 651h1v1h-1zM1055 651h1v1h-1zM1135 651h2v1h-2zM5 652h2v1h-2zM681 652h2v1h-2zM700 652h5v1h-5zM755 652h2v1h-2zM758 652h1v1h-1zM769 652h3v1h-3zM782 652h2v1h-2zM800 652h1v1h-1zM837 652h1v1h-1zM1056 652h1v1h-1zM1058 652h1v1h-1zM1137 652h1v1h-1zM1185 652h1v1h-1zM683 653h2v1h-2zM732 653h1v1h-1zM757 653h1v1h-1zM772 653h4v1h-4zM780 653h2v1h-2zM801 653h1v1h-1zM1057 653h1v1h-1zM1138 653h1v1h-1zM1170 653h2v1h-2zM1176 653h2v1h-2zM1184 653h1v1h-1zM1186 653h2v1h-2zM685 654h1v1h-1zM731 654h1v1h-1zM776 654h4v1h-4zM802 654h2v1h-2zM1172 654h4v1h-4zM1178 654h2v1h-2zM1183 654h1v1h-1zM1188 654h1v1h-1zM505 655h1v1h-1zM730 655h1v1h-1zM804 655h1v1h-1zM1180 655h1v1h-1zM1182 655h1v1h-1zM506 656h2v1h-2zM729 656h1v1h-1zM805 656h7v1h-7zM1140 656h1v1h-1zM1181 656h1v1h-1zM508 657h1v1h-1zM517 657h1v1h-1zM533 657h2v1h-2zM812 657h2v1h-2zM1141 657h1v1h-1zM1161 657h1v1h-1zM509 658h3v1h-3zM515 658h2v1h-2zM518 658h2v1h-2zM532 658h1v1h-1zM535 658h2v1h-2zM814 658h1v1h-1zM824 658h1v1h-1zM1142 658h1v1h-1zM1153 658h3v1h-3zM1159 658h2v1h-2zM1162 658h1v1h-1zM512 659h3v1h-3zM520 659h1v1h-1zM815 659h1v1h-1zM822 659h2v1h-2zM1143 659h1v1h-1zM1152 659h1v1h-1zM1156 659h3v1h-3zM521 660h6v1h-6zM816 660h1v1h-1zM820 660h2v1h-2zM1144 660h1v1h-1zM1151 660h1v1h-1zM527 661h2v1h-2zM530 661h1v1h-1zM817 661h3v1h-3zM1145 661h3v1h-3zM1150 661h1v1h-1zM1164 661h1v1h-1zM529 662h1v1h-1zM1148 662h2v1h-2zM251 599h1v2h-1zM221 601h1v2h-1zM234 601h1v2h-1zM220 603h1v2h-1zM235 603h1v2h-1zM243 603h1v2h-1zM254 603h1v2h-1zM121 605h1v2h-1zM219 605h1v3h-1zM236 605h1v2h-1zM255 605h1v2h-1zM122 607h1v3h-1zM256 607h1v2h-1zM218 608h1v2h-1zM184 609h1v2h-1zM186 609h1v2h-1zM123 610h1v2h-1zM217 610h1v2h-1zM269 610h1v2h-1zM124 612h1v3h-1zM182 612h1v2h-1zM188 612h1v2h-1zM216 612h1v2h-1zM270 612h1v2h-1zM215 614h1v2h-1zM271 614h1v2h-1zM125 615h1v2h-1zM180 615h1v2h-1zM214 616h1v2h-1zM272 616h1v2h-1zM126 617h1v2h-1zM179 617h1v2h-1zM193 617h1v2h-1zM213 618h1v2h-1zM273 618h1v3h-1zM178 619h1v2h-1zM194 619h1v3h-1zM71 620h1v2h-1zM128 620h1v2h-1zM917 620h1v2h-1zM274 621h1v3h-1zM195 622h1v2h-1zM200 622h1v2h-1zM918 622h1v3h-1zM196 624h1v3h-1zM199 624h1v2h-1zM275 624h1v4h-1zM889 625h1v2h-1zM919 625h1v2h-1zM198 626h1v2h-1zM1017 626h1v2h-1zM57 627h1v2h-1zM169 627h1v2h-1zM197 627h1v2h-1zM888 627h1v2h-1zM920 627h1v3h-1zM276 628h1v3h-1zM1016 628h1v4h-1zM56 629h1v3h-1zM168 629h1v3h-1zM364 629h1v2h-1zM887 629h1v3h-1zM1031 629h1v2h-1zM288 630h1v2h-1zM921 630h1v2h-1zM277 631h1v2h-1zM417 631h1v2h-1zM55 632h1v3h-1zM167 632h1v4h-1zM287 632h1v2h-1zM345 632h1v2h-1zM351 632h1v2h-1zM362 632h1v2h-1zM370 632h1v2h-1zM416 632h1v2h-1zM453 632h1v2h-1zM886 632h1v2h-1zM1015 632h1v3h-1zM1033 632h1v2h-1zM1206 632h1v2h-1zM283 633h1v2h-1zM314 633h1v2h-1zM401 633h1v2h-1zM418 633h1v2h-1zM1203 633h1v2h-1zM13 634h1v2h-1zM286 634h1v2h-1zM344 634h1v2h-1zM454 634h1v2h-1zM602 634h1v2h-1zM885 634h1v2h-1zM1034 634h1v4h-1zM54 635h1v3h-1zM315 635h1v2h-1zM372 635h1v2h-1zM400 635h1v2h-1zM414 635h1v2h-1zM419 635h1v2h-1zM845 635h1v2h-1zM973 635h1v2h-1zM1008 635h1v2h-1zM1010 635h1v2h-1zM1014 635h1v4h-1zM1208 635h1v2h-1zM1265 635h1v2h-1zM12 636h1v4h-1zM14 636h1v2h-1zM166 636h1v3h-1zM343 636h1v3h-1zM455 636h1v2h-1zM587 636h1v2h-1zM1201 636h1v2h-1zM316 637h1v2h-1zM399 637h1v3h-1zM420 637h1v2h-1zM604 637h1v2h-1zM844 637h1v3h-1zM946 637h1v2h-1zM972 637h1v3h-1zM975 637h1v2h-1zM1007 637h1v2h-1zM1264 637h1v3h-1zM15 638h1v2h-1zM53 638h1v2h-1zM431 638h1v2h-1zM456 638h1v2h-1zM471 638h1v2h-1zM654 638h1v2h-1zM1012 638h1v2h-1zM1035 638h1v3h-1zM1200 638h1v2h-1zM1222 638h1v2h-1zM165 639h1v2h-1zM342 639h1v2h-1zM421 639h1v2h-1zM481 639h1v2h-1zM1006 639h1v2h-1zM1013 639h1v2h-1zM1079 639h1v2h-1zM11 640h1v4h-1zM16 640h1v2h-1zM398 640h1v2h-1zM457 640h1v2h-1zM584 640h1v2h-1zM655 640h1v2h-1zM671 640h1v2h-1zM843 640h1v3h-1zM948 640h1v2h-1zM971 640h1v3h-1zM1199 640h1v3h-1zM1263 640h1v4h-1zM341 641h1v2h-1zM482 641h1v2h-1zM627 641h1v2h-1zM737 641h1v2h-1zM1005 641h1v2h-1zM1036 641h1v4h-1zM1224 641h1v2h-1zM17 642h1v2h-1zM397 642h1v2h-1zM575 642h1v2h-1zM583 642h1v2h-1zM656 642h1v2h-1zM949 642h1v2h-1zM1107 642h1v2h-1zM483 643h1v2h-1zM709 643h1v2h-1zM736 643h1v3h-1zM842 643h1v3h-1zM970 643h1v3h-1zM1198 643h1v2h-1zM10 644h1v4h-1zM582 644h1v2h-1zM674 644h1v2h-1zM829 644h1v2h-1zM950 644h1v2h-1zM1042 644h1v2h-1zM1262 644h1v3h-1zM484 645h1v2h-1zM541 645h1v2h-1zM708 645h1v2h-1zM1037 645h1v2h-1zM1063 645h1v2h-1zM1197 645h1v2h-1zM581 646h1v2h-1zM675 646h1v2h-1zM735 646h1v2h-1zM828 646h1v3h-1zM841 646h1v2h-1zM951 646h1v2h-1zM969 646h1v2h-1zM1043 646h1v2h-1zM540 647h1v4h-1zM707 647h1v2h-1zM1261 647h1v2h-1zM9 648h1v3h-1zM676 648h1v2h-1zM725 648h1v2h-1zM734 648h1v3h-1zM952 648h1v2h-1zM1044 648h1v2h-1zM1192 648h1v2h-1zM502 649h1v2h-1zM688 649h1v2h-1zM706 649h1v2h-1zM827 649h1v4h-1zM839 649h1v2h-1zM726 650h1v2h-1zM953 650h1v2h-1zM1059 650h1v2h-1zM1191 650h1v2h-1zM503 651h1v2h-1zM539 651h1v3h-1zM705 651h1v2h-1zM733 651h1v2h-1zM686 652h1v2h-1zM727 652h1v2h-1zM1190 652h1v2h-1zM504 653h1v2h-1zM826 653h1v3h-1zM1169 653h1v2h-1zM538 654h1v4h-1zM728 654h1v2h-1zM1139 654h1v2h-1zM1189 654h1v2h-1zM1168 655h1v2h-1zM825 656h1v2h-1zM1167 657h1v2h-1zM537 658h1v2h-1zM531 659h1v2h-1zM1163 659h1v2h-1zM1166 659h1v2h-1zM1165 661h1v2h-1z" fill="#1e90ff"/>
<path d="M5 754h1v11h-1zM9 754h1v10h-1zM13 754h1v8h-1zM17 754h1v7h-1zM21 754h1v7h-1zM25 754h1v6h-1zM29 754h1v5h-1zM33 754h1v5h-1zM37 754h1v5h-1zM41 754h1v4h-1zM45 754h1v4h-1zM49 754h1v3h-1zM53 754h1v3h-1zM57 754h1v2h-1zM65 754h1v1h-1zM69 754h1v1h-1zM73 752h1v3h-1zM77 751h1v4h-1zM81 750h1v5h-1zM85 749h1v6h-1zM89 748h1v7h-1zM93 748h1v7h-1zM97 747h1v8h-1zM101 746h1v9h-1zM105 745h1v10h-1zM109 745h1v10h-1zM113 744h1v11h-1zM117 744h1v11h-1zM121 744h1v11h-1zM125 744h1v11h-1zM129 745h1v10h-1zM133 746h1v9h-1zM137 746h1v9h-1zM141 747h1v8h-1zM145 748h1v7h-1zM149 749h1v6h-1zM153 749h1v6h-1zM157 750h1v5h-1zM161 751h1v4h-1zM165 752h1v3h-1zM169 752h1v3h-1zM173 751h1v4h-1zM177 751h1v4h-1zM181 750h1v5h-1zM185 748h1v7h-1zM189 747h1v8h-1zM193 746h1v9h-1zM197 747h1v8h-1zM201 746h1v9h-1zM205 746h1v9h-1zM209 745h1v10h-1zM213 745h1v10h-1zM217 743h1v12h-1zM221 738h1v17h-1zM225 735h1v20h-1zM229 731h1v24h-1zM233 726h1v29h-1zM237 723h1v32h-1zM241 721h1v34h-1zM245 716h1v39h-1zM249 708h1v47h-1zM253 702h1v53h-1zM257 701h1v54h-1zM261 699h1v56h-1zM265 696h1v59h-1zM269 696h1v59h-1zM273 698h1v57h-1zM277 705h1v50h-1zM281 711h1v44h-1zM285 718h1v37h-1zM289 721h1v34h-1zM293 724h1v31h-1zM297 725h1v30h-1zM301 728h1v27h-1zM305 730h1v25h-1zM309 732h1v23h-1zM313 734h1v21h-1zM317 738h1v17h-1zM321 741h1v14h-1zM325 744h1v11h-1zM329 747h1v8h-1zM333 749h1v6h-1zM337 751h1v4h-1zM341 753h1v2h-1zM345 752h1v3h-1zM349 750h1v5h-1zM353 751h1v4h-1zM357 751h1v4h-1zM361 751h1v4h-1zM365 749h1v6h-1zM369 749h1v6h-1zM373 750h1v5h-1zM377 750h1v5h-1zM381 750h1v5h-1zM385 751h1v4h-1zM389 752h1v3h-1zM397 754h1v2h-1zM409 754h1v1h-1zM413 754h1v1h-1zM417 753h1v2h-1zM421 754h1v1h-1zM425 754h1v2h-1zM429 754h1v3h-1zM433 754h1v2h-1zM437 754h1v2h-1zM441 754h1v1h-1zM449 754h1v1h-1zM453 753h1v2h-1zM461 754h1v2h-1zM465 754h1v4h-1zM469 754h1v4h-1zM473 754h1v3h-1zM477 754h1v3h-1zM481 754h1v3h-1zM485 754h1v5h-1zM489 754h1v8h-1zM493 754h1v10h-1zM497 754h1v11h-1zM501 754h1v12h-1zM505 754h1v15h-1zM509 754h1v19h-1zM513 754h1v22h-1zM517 754h1v24h-1zM521 754h1v27h-1zM525 754h1v28h-1zM529 754h1v30h-1zM533 754h1v30h-1zM537 754h1v31h-1zM541 754h1v28h-1zM545 754h1v25h-1zM549 754h1v22h-1zM553 754h1v20h-1zM557 754h1v18h-1zM561 754h1v17h-1zM565 754h1v15h-1zM569 754h1v14h-1zM573 754h1v12h-1zM577 754h1v12h-1zM581 754h1v12h-1zM585 754h1v11h-1zM589 754h1v8h-1zM593 754h1v6h-1zM597 754h1v5h-1zM601 754h1v3h-1zM605 754h1v3h-1zM609 754h1v4h-1zM613 754h1v4h-1zM617 754h1v4h-1zM621 754h1v4h-1zM625 754h1v5h-1zM629 754h1v5h-1zM633 754h1v5h-1zM637 754h1v5h-1zM641 754h1v4h-1zM645 754h1v4h-1zM649 754h1v4h-1zM653 754h1v3h-1zM657 754h1v4h-1zM661 754h1v4h-1zM665 754h1v4h-1zM669 754h1v3h-1zM673 754h1v4h-1zM677 754h1v5h-1zM681 754h1v7h-1zM685 754h1v9h-1zM689 754h1v9h-1zM693 754h1v10h-1zM697 754h1v11h-1zM701 754h1v11h-1zM705 754h1v12h-1zM709 754h1v11h-1zM713 754h1v11h-1zM717 754h1v11h-1zM721 754h1v10h-1zM725 754h1v10h-1zM729 754h1v12h-1zM733 754h1v13h-1zM737 754h1v11h-1zM741 754h1v10h-1zM745 754h1v10h-1zM749 754h1v10h-1zM753 754h1v11h-1zM757 754h1v12h-1zM761 754h1v13h-1zM765 754h1v13h-1zM769 754h1v13h-1zM773 754h1v14h-1zM777 754h1v14h-1zM781 754h1v15h-1zM785 754h1v14h-1zM789 754h1v14h-1zM793 754h1v13h-1zM797 754h1v13h-1zM801 754h1v13h-1zM805 754h1v13h-1zM809 754h1v14h-1zM813 754h1v14h-1zM817 754h1v15h-1zM821 754h1v16h-1zM825 754h1v16h-1zM829 754h1v14h-1zM833 754h1v14h-1zM837 754h1v14h-1zM841 754h1v13h-1zM845 754h1v11h-1zM849 754h1v9h-1zM853 754h1v8h-1zM857 754h1v7h-1zM861 754h1v5h-1zM865 754h1v4h-1zM869 754h1v3h-1zM873 754h1v3h-1zM877 754h1v2h-1zM881 754h1v2h-1zM885 754h1v1h-1zM889 754h1v1h-1zM893 753h1v2h-1zM897 750h1v5h-1zM901 748h1v7h-1zM905 747h1v8h-1zM909 745h1v10h-1zM913 745h1v10h-1zM917 744h1v11h-1zM921 745h1v10h-1zM925 746h1v9h-1zM929 747h1v8h-1zM933 748h1v7h-1zM937 749h1v6h-1zM941 750h1v5h-1zM945 751h1v4h-1zM949 752h1v3h-1zM957 754h1v2h-1zM961 754h1v4h-1zM965 754h1v5h-1zM969 754h1v6h-1zM973 754h1v4h-1zM977 754h1v4h-1zM981 754h1v4h-1zM985 754h1v5h-1zM989 754h1v6h-1zM993 754h1v6h-1zM997 754h1v6h-1zM1001 754h1v6h-1zM1005 754h1v6h-1zM1009 754h1v5h-1zM1013 754h1v4h-1zM1017 754h1v2h-1zM1021 754h1v1h-1zM1025 752h1v3h-1zM1029 751h1v4h-1zM1033 751h1v4h-1zM1037 753h1v2h-1zM1045 754h1v3h-1zM1049 754h1v5h-1zM1053 754h1v7h-1zM1057 754h1v9h-1zM1061 754h1v10h-1zM1065 754h1v10h-1zM1069 754h1v9h-1zM1073 754h1v7h-1zM1077 754h1v6h-1zM1081 754h1v6h-1zM1085 754h1v6h-1zM1089 754h1v6h-1zM1093 754h1v6h-1zM1097 754h1v6h-1zM1101 754h1v5h-1zM1105 754h1v5h-1zM1109 754h1v6h-1zM1113 754h1v6h-1zM1117 754h1v7h-1zM1121 754h1v7h-1zM1125 754h1v8h-1zM1129 754h1v9h-1zM1133 754h1v9h-1zM1137 754h1v9h-1zM1141 754h1v11h-1zM1145 754h1v13h-1zM1149 754h1v15h-1zM1153 754h1v15h-1zM1157 754h1v16h-1zM1161 754h1v16h-1zM1165 754h1v18h-1zM1169 754h1v18h-1zM1173 754h1v17h-1zM1177 754h1v17h-1zM1181 754h1v17h-1zM1185 754h1v17h-1zM1189 754h1v17h-1zM1193 754h1v16h-1zM1197 754h1v14h-1zM1201 754h1v12h-1zM1205 754h1v9h-1zM1209 754h1v8h-1zM1213 754h1v7h-1zM1217 754h1v6h-1zM1221 754h1v5h-1zM1225 754h1v5h-1zM1229 754h1v6h-1zM1233 754h1v7h-1zM1237 754h1v8h-1zM1241 754h1v8h-1zM1245 754h1v8h-1zM1249 754h1v9h-1zM1253 754h1v9h-1zM1257 754h1v9h-1zM1261 754h1v9h-1zM1265 754h1v8h-1zM1269 754h1v7h-1z" fill="#c0c0c0"/>
<path d="M280 701h3v1h-3zM275 702h2v1h-2zM286 702h1v1h-1zM274 703h1v1h-1zM287 703h2v1h-2zM270 705h1v1h-1zM269 706h1v1h-1zM292 706h1v1h-1zM268 707h1v1h-1zM293 707h2v1h-2zM264 710h1v1h-1zM298 710h1v1h-1zM263 711h1v1h-1zM299 711h1v1h-1zM262 712h1v1h-1zM300 712h1v1h-1zM258 716h1v1h-1zM304 716h1v1h-1zM257 717h1v1h-1zM305 717h1v1h-1zM256 718h1v1h-1zM306 718h1v1h-1zM252 722h1v1h-1zM310 722h2v1h-2zM312 723h1v1h-1zM316 726h1v1h-1zM317 727h2v1h-2zM247 728h1v1h-1zM246 729h1v1h-1zM245 730h1v1h-1zM322 730h2v1h-2zM324 731h1v1h-1zM241 733h1v1h-1zM328 733h1v1h-1zM240 734h1v1h-1zM329 734h1v1h-1zM239 735h1v1h-1zM330 735h1v1h-1zM235 737h1v1h-1zM233 738h2v1h-2zM334 738h2v1h-2zM336 739h1v1h-1zM229 741h1v1h-1zM340 741h1v1h-1zM227 742h2v1h-2zM341 742h2v1h-2zM125 744h3v1h-3zM131 744h3v1h-3zM137 744h3v1h-3zM143 744h3v1h-3zM221 744h3v1h-3zM346 744h1v1h-1zM119 745h3v1h-3zM149 745h3v1h-3zM155 745h1v1h-1zM216 745h2v1h-2zM347 745h2v1h-2zM928 745h3v1h-3zM934 745h3v1h-3zM113 746h3v1h-3zM156 746h2v1h-2zM209 746h3v1h-3zM215 746h1v1h-1zM924 746h1v1h-1zM940 746h3v1h-3zM946 746h2v1h-2zM108 747h2v1h-2zM161 747h3v1h-3zM203 747h3v1h-3zM352 747h1v1h-1zM922 747h2v1h-2zM948 747h1v1h-1zM107 748h1v1h-1zM167 748h3v1h-3zM197 748h3v1h-3zM353 748h2v1h-2zM917 748h2v1h-2zM952 748h3v1h-3zM96 749h2v1h-2zM101 749h3v1h-3zM173 749h3v1h-3zM179 749h1v1h-1zM185 749h3v1h-3zM191 749h3v1h-3zM358 749h2v1h-2zM376 749h3v1h-3zM382 749h3v1h-3zM388 749h3v1h-3zM916 749h1v1h-1zM95 750h1v1h-1zM180 750h2v1h-2zM360 750h1v1h-1zM364 750h3v1h-3zM370 750h3v1h-3zM394 750h3v1h-3zM912 750h1v1h-1zM958 750h2v1h-2zM89 751h3v1h-3zM400 751h3v1h-3zM910 751h2v1h-2zM960 751h1v1h-1zM84 752h2v1h-2zM406 752h3v1h-3zM905 752h2v1h-2zM964 752h3v1h-3zM83 753h1v1h-1zM412 753h3v1h-3zM418 753h3v1h-3zM904 753h1v1h-1zM77 754h3v1h-3zM424 754h3v1h-3zM430 754h3v1h-3zM436 754h3v1h-3zM900 754h1v1h-1zM970 754h2v1h-2zM1036 754h3v1h-3zM1042 754h3v1h-3zM1048 754h3v1h-3zM1054 754h2v1h-2zM72 755h2v1h-2zM442 755h3v1h-3zM448 755h3v1h-3zM454 755h3v1h-3zM460 755h3v1h-3zM466 755h3v1h-3zM472 755h3v1h-3zM478 755h2v1h-2zM898 755h2v1h-2zM972 755h1v1h-1zM1032 755h1v1h-1zM1056 755h1v1h-1zM71 756h1v1h-1zM480 756h1v1h-1zM484 756h3v1h-3zM892 756h3v1h-3zM976 756h3v1h-3zM1030 756h2v1h-2zM1060 756h1v1h-1zM60 757h2v1h-2zM65 757h3v1h-3zM888 757h1v1h-1zM982 757h2v1h-2zM1024 757h3v1h-3zM1061 757h2v1h-2zM59 758h1v1h-1zM490 758h2v1h-2zM624 758h1v1h-1zM628 758h3v1h-3zM634 758h3v1h-3zM640 758h3v1h-3zM646 758h3v1h-3zM652 758h3v1h-3zM658 758h3v1h-3zM664 758h3v1h-3zM670 758h3v1h-3zM676 758h3v1h-3zM682 758h2v1h-2zM886 758h2v1h-2zM984 758h1v1h-1zM988 758h3v1h-3zM1020 758h1v1h-1zM1066 758h1v1h-1zM48 759h2v1h-2zM53 759h3v1h-3zM492 759h1v1h-1zM616 759h3v1h-3zM622 759h2v1h-2zM684 759h1v1h-1zM688 759h3v1h-3zM880 759h3v1h-3zM994 759h3v1h-3zM1000 759h3v1h-3zM1006 759h3v1h-3zM1012 759h3v1h-3zM1018 759h2v1h-2zM1067 759h2v1h-2zM41 760h3v1h-3zM47 760h1v1h-1zM496 760h3v1h-3zM612 760h1v1h-1zM694 760h2v1h-2zM876 760h1v1h-1zM1102 760h3v1h-3zM1108 760h3v1h-3zM1114 760h3v1h-3zM1120 760h3v1h-3zM1126 760h3v1h-3zM36 761h2v1h-2zM502 761h2v1h-2zM610 761h2v1h-2zM696 761h1v1h-1zM874 761h2v1h-2zM1072 761h3v1h-3zM1078 761h2v1h-2zM1092 761h1v1h-1zM1096 761h3v1h-3zM1132 761h3v1h-3zM1138 761h2v1h-2zM1234 761h3v1h-3zM1240 761h3v1h-3zM1246 761h3v1h-3zM1252 761h3v1h-3zM29 762h3v1h-3zM35 762h1v1h-1zM504 762h1v1h-1zM604 762h3v1h-3zM700 762h3v1h-3zM868 762h3v1h-3zM1080 762h1v1h-1zM1084 762h3v1h-3zM1090 762h2v1h-2zM1140 762h1v1h-1zM1228 762h3v1h-3zM1258 762h3v1h-3zM1264 762h3v1h-3zM5 763h3v1h-3zM23 763h3v1h-3zM508 763h1v1h-1zM706 763h3v1h-3zM864 763h1v1h-1zM1144 763h3v1h-3zM1224 763h1v1h-1zM11 764h3v1h-3zM17 764h3v1h-3zM509 764h2v1h-2zM599 764h2v1h-2zM712 764h3v1h-3zM718 764h2v1h-2zM862 764h2v1h-2zM1150 764h2v1h-2zM1222 764h2v1h-2zM598 765h1v1h-1zM720 765h1v1h-1zM724 765h3v1h-3zM730 765h3v1h-3zM736 765h3v1h-3zM742 765h3v1h-3zM748 765h3v1h-3zM754 765h3v1h-3zM760 765h3v1h-3zM766 765h2v1h-2zM1152 765h1v1h-1zM514 766h1v1h-1zM592 766h3v1h-3zM768 766h1v1h-1zM772 766h3v1h-3zM778 766h2v1h-2zM856 766h3v1h-3zM1156 766h3v1h-3zM1216 766h3v1h-3zM515 767h2v1h-2zM780 767h1v1h-1zM784 767h3v1h-3zM850 767h3v1h-3zM1162 767h2v1h-2zM1212 767h1v1h-1zM587 768h2v1h-2zM790 768h3v1h-3zM796 768h3v1h-3zM802 768h3v1h-3zM808 768h3v1h-3zM814 768h3v1h-3zM820 768h3v1h-3zM826 768h3v1h-3zM832 768h3v1h-3zM838 768h3v1h-3zM844 768h3v1h-3zM1164 768h1v1h-1zM1210 768h2v1h-2zM520 769h1v1h-1zM586 769h1v1h-1zM1168 769h3v1h-3zM1174 769h2v1h-2zM1204 769h3v1h-3zM521 770h1v1h-1zM580 770h3v1h-3zM1176 770h1v1h-1zM1200 770h1v1h-1zM522 771h1v1h-1zM1180 771h3v1h-3zM1186 771h3v1h-3zM1192 771h3v1h-3zM1198 771h2v1h-2zM575 772h2v1h-2zM526 773h1v1h-1zM574 773h1v1h-1zM527 774h2v1h-2zM569 775h2v1h-2zM532 776h1v1h-1zM568 776h1v1h-1zM533 777h2v1h-2zM563 778h2v1h-2zM538 779h1v1h-1zM562 779h1v1h-1zM539 780h2v1h-2zM556 780h3v1h-3zM544 781h3v1h-3zM550 781h3v1h-3zM251 723h1v2h-1z" fill="#ff0000"/>
</svg>
<div class="t s tb" style="left:44.5px;">M1</div>
<div class="t s tb" style="left:72.5px;">M5</div>
<div class="t s tb" style="left:98.5px;">M15</div>
<div class="t s tb" style="left:126.5px;">M30</div>
<div class="t s tb" style="left:157.3px;">H1</div>
<div class="t s tb" style="left:184.6px;">H4</div>
<div class="t s tb" style="left:213.8px;">D1</div>
<div class="t s tb" style="left:241px;">W1</div>
<div class="t s tb" style="left:267.6px;">MN</div>
<div class="t s ax" style="left:1603.3px;top:48.5px;">1.46745</div>
<div class="t s ax" style="left:1603.3px;top:81.5px;">1.45450</div>
<div class="t s ax" style="left:1603.3px;top:114.5px;">1.44155</div>
<div class="t s ax" style="left:1603.3px;top:147.5px;">1.42860</div>
<div class="t s ax" style="left:1603.3px;top:180.5px;">1.41530</div>
<div class="t s ax" style="left:1603.3px;top:213.5px;">1.40235</div>
<div class="t s ax" style="left:1603.3px;top:246.5px;">1.38940</div>
<div class="t s ax" style="left:1603.3px;top:279.5px;">1.37610</div>
<div class="t s ax" style="left:1603.3px;top:312.5px;">1.36315</div>
<div class="t s ax" style="left:1603.3px;top:345.5px;">1.35020</div>
<div class="t s ax" style="left:1603.3px;top:378.5px;">1.33690</div>
<div class="t s ax" style="left:1603.3px;top:411.5px;">1.32395</div>
<div class="t s ax" style="left:1603.3px;top:444.5px;">1.31100</div>
<div class="t s ax" style="left:1603.3px;top:477.5px;">1.29805</div>
<div class="t s ax" style="left:1603.3px;top:510.5px;">1.28475</div>
<div class="t s ax" style="left:1603.3px;top:543.5px;">1.27180</div>
<div class="t s ax" style="left:1603.3px;top:576.5px;">1.25885</div>
<div class="t s ax" style="left:1601px;top:589px;">100</div>
<div class="t s ax" style="left:1600px;top:613px;">70</div>
<div class="t s ax" style="left:1600px;top:653px;">30</div>
<div class="t s ax" style="left:1601px;top:677px;">0</div>
<div class="t s ax" style="left:1601px;top:693px;">0.032972</div>
<div class="t s ax" style="left:1601px;top:751px;">0.00</div>
<div class="t s ax" style="left:1601px;top:780px;">-0.018154</div>
<div class="t s ax" style="left:20px;top:32px;letter-spacing:0.72px;">USDCAD,Daily</div>
<div class="t s ax" style="left:92.3px;top:32px;letter-spacing:0px;">1.28017 1.28024 1.27611 1.27794</div>
<div class="t s ax" style="left:9px;top:590.5px;letter-spacing:0.2px;">RSI(14) 48.6737</div>
<div class="t s ax" style="left:9px;top:694px;letter-spacing:0.15px;">MACD(12,26,9) -0.003372 -0.004276</div>
<div class="t s lab" style="left:1599px;top:363px;background:#ff0000;width:34.7px;height:9px;padding:2px 0 0 4.3px;">1.34206</div>
<div class="t s lab" style="left:1599px;top:434px;background:#ff0000;width:34.7px;height:9px;padding:2px 0 0 4.3px;">1.31405</div>
<div class="t s lab" style="left:1599px;top:490px;background:#00ff00;width:34.7px;height:9px;padding:2px 0 0 4.3px;">1.29208</div>
<div class="t s lab" style="left:1599px;top:527px;background:#000000;width:34.7px;height:9px;padding:2px 0 0 4.3px;">1.27794</div>
<div class="t s lab" style="left:1599px;top:545px;background:#0000ff;width:34.7px;height:9px;padding:2px 0 0 4.3px;">1.27027</div>
<div class="t s dt" style="left:4px;">7 Jan 2020</div>
<div class="t s dt" style="left:68px;">25 Jan 2020</div>
<div class="t s dt" style="left:132px;">13 Feb 2020</div>
<div class="t s dt" style="left:196px;">3 Mar 2020</div>
<div class="t s dt" style="left:260px;">21 Mar 2020</div>
<div class="t s dt" style="left:324px;">9 Apr 2020</div>
<div class="t s dt" style="left:388px;">28 Apr 2020</div>
<div class="t s dt" style="left:452px;">16 May 2020</div>
<div class="t s dt" style="left:516px;">4 Jun 2020</div>
<div class="t s dt" style="left:580px;">23 Jun 2020</div>
<div class="t s dt" style="left:644px;">11 Jul 2020</div>
<div class="t s dt" style="left:708px;">30 Jul 2020</div>
<div class="t s dt" style="left:772px;">18 Aug 2020</div>
<div class="t s dt" style="left:836px;">5 Sep 2020</div>
<div class="t s dt" style="left:900px;">24 Sep 2020</div>
<div class="t s dt" style="left:964px;">13 Oct 2020</div>
<div class="t s dt" style="left:1028px;">31 Oct 2020</div>
<div class="t s dt" style="left:1092px;">19 Nov 2020</div>
<div class="t s dt" style="left:1156px;">8 Dec 2020</div>
<div class="t s dt" style="left:1220px;">28 Dec 2020</div>
<div class="t tab" style="left:17.3px;letter-spacing:-0.296px;">EURUSD,Daily</div>
<div class="t tab" style="left:119.86px;letter-spacing:-0.224px;">USDCHF,Daily</div>
<div class="t tab" style="left:221.1px;letter-spacing:-0.158px;">AUDUSD,Daily</div>
<div class="t tab" style="left:324.76px;letter-spacing:-0.224px;color:#000;">USDCAD,Daily</div>
<div class="t tab" style="left:427.2px;letter-spacing:-0.049px;">USDCNH,Daily</div>
<div class="t tab" style="left:533.76px;letter-spacing:-0.260px;">EURUSD,Daily</div>
<div class="t tab" style="left:638.22px;letter-spacing:-0.520px;">GBPUSD,H4</div>
<div class="t tab" style="left:728.88px;letter-spacing:-0.260px;">XAUUSD,H4</div>
<div class="t tab" style="left:820.52px;letter-spacing:-0.047px;">HK50,H1</div>
<div class="t tab" style="left:892.76px;letter-spacing:0.003px;">UK100,H1</div>
<div class="t tab" style="left:972.3px;letter-spacing:0.117px;">UK100,H1</div>
<div class="t tab" style="left:1053.44px;letter-spacing:-0.557px;">GER30,H1</div>
<div class="t tab" style="left:1131.76px;letter-spacing:-0.397px;">FRA40,H1</div>
<div class="t tab" style="left:1208.3px;letter-spacing:0.133px;">USOil,Weekly</div>
<div class="t tab" style="left:1307.76px;letter-spacing:-0.460px;">USDJPY,H1</div>
<div class="t tab" style="left:1391.42px;letter-spacing:-0.064px;">DJ30,Daily</div>
<div class="t tab" style="left:1471.76px;letter-spacing:0.084px;">CHINA300,H1</div>
<div class="t tab" style="left:1571.6px;letter-spacing:-0.050px;">USOil,</div>
</body></html>
